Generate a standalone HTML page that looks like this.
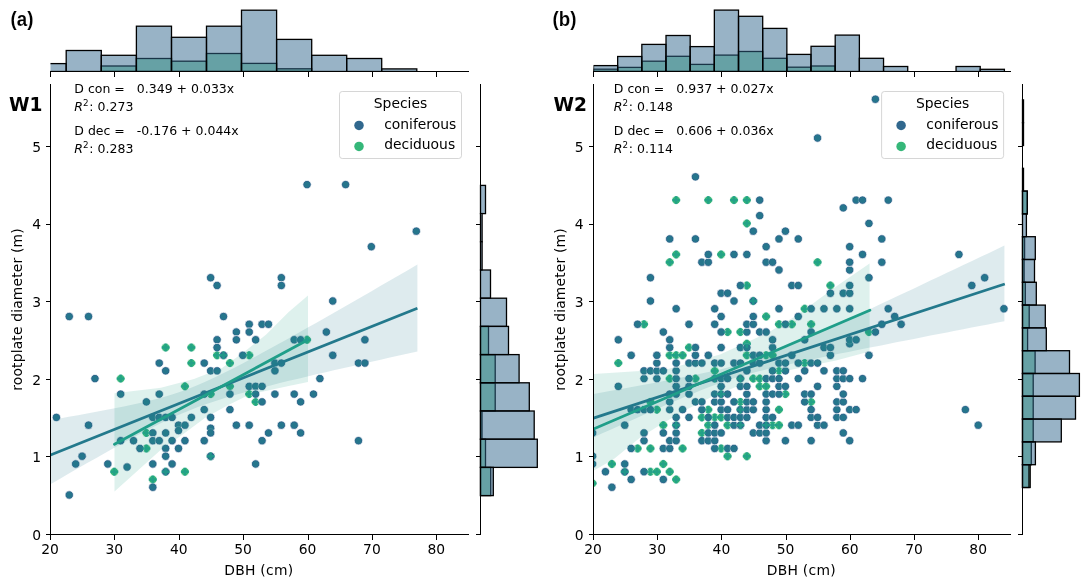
<!DOCTYPE html>
<html lang="en"><head><meta charset="utf-8"><title>Rootplate diameter vs DBH</title>
<style>html,body{margin:0;padding:0;background:#fff}svg{display:block}text{font-family:"DejaVu Sans","Liberation Sans",sans-serif}text.lib{font-family:"Liberation Sans",Arial,sans-serif}</style></head><body>
<svg width="1090" height="586" viewBox="0 0 1090 586">
<rect width="1090" height="586" fill="#fff"/>
<clipPath id="ctL"><rect x="50.5" y="0" width="418.5" height="72"/></clipPath>
<g stroke="#000" stroke-width="1.3" clip-path="url(#ctL)">
<rect x="101.3" y="66" width="35.1" height="5.5" fill="#35b779" fill-opacity=".5"/>
<rect x="136.4" y="58.5" width="35.1" height="13" fill="#35b779" fill-opacity=".5"/>
<rect x="171.5" y="61.2" width="35" height="10.3" fill="#35b779" fill-opacity=".5"/>
<rect x="206.5" y="53.5" width="35" height="18" fill="#35b779" fill-opacity=".5"/>
<rect x="241.5" y="63.4" width="35.1" height="8.1" fill="#35b779" fill-opacity=".5"/>
<rect x="276.6" y="68.8" width="35.1" height="2.7" fill="#35b779" fill-opacity=".5"/>
<rect x="31.1" y="63.6" width="35.1" height="7.9" fill="#31688e" fill-opacity=".5"/>
<rect x="66.2" y="50.5" width="35.1" height="21" fill="#31688e" fill-opacity=".5"/>
<rect x="101.3" y="55.3" width="35.1" height="16.2" fill="#31688e" fill-opacity=".5"/>
<rect x="136.4" y="26.2" width="35.1" height="45.3" fill="#31688e" fill-opacity=".5"/>
<rect x="171.5" y="37.3" width="35" height="34.2" fill="#31688e" fill-opacity=".5"/>
<rect x="206.5" y="26.2" width="35" height="45.3" fill="#31688e" fill-opacity=".5"/>
<rect x="241.5" y="10.2" width="35.1" height="61.3" fill="#31688e" fill-opacity=".5"/>
<rect x="276.6" y="39.4" width="35.1" height="32.1" fill="#31688e" fill-opacity=".5"/>
<rect x="311.7" y="55.3" width="35" height="16.2" fill="#31688e" fill-opacity=".5"/>
<rect x="346.7" y="58.5" width="35" height="13" fill="#31688e" fill-opacity=".5"/>
<rect x="381.7" y="68.9" width="35.1" height="2.6" fill="#31688e" fill-opacity=".5"/>
</g>
<g stroke="#000" stroke-width="1.3">
<rect x="480.5" y="326.4" width="8" height="28.2" fill="#35b779" fill-opacity=".5"/>
<rect x="480.5" y="354.6" width="14.7" height="28.2" fill="#35b779" fill-opacity=".5"/>
<rect x="480.5" y="382.8" width="14.7" height="28.2" fill="#35b779" fill-opacity=".5"/>
<rect x="480.5" y="411" width="1.5" height="28.2" fill="#35b779" fill-opacity=".5"/>
<rect x="480.5" y="439.2" width="5" height="28.2" fill="#35b779" fill-opacity=".5"/>
<rect x="480.5" y="467.4" width="10.2" height="28.2" fill="#35b779" fill-opacity=".5"/>
<rect x="480.5" y="185.4" width="5" height="28.2" fill="#31688e" fill-opacity=".5"/>
<rect x="480.5" y="213.6" width="1.6" height="28.2" fill="#31688e" fill-opacity=".5"/>
<rect x="480.5" y="241.8" width="1.6" height="28.2" fill="#31688e" fill-opacity=".5"/>
<rect x="480.5" y="270" width="10" height="28.2" fill="#31688e" fill-opacity=".5"/>
<rect x="480.5" y="298.2" width="26" height="28.2" fill="#31688e" fill-opacity=".5"/>
<rect x="480.5" y="326.4" width="28" height="28.2" fill="#31688e" fill-opacity=".5"/>
<rect x="480.5" y="354.6" width="38.6" height="28.2" fill="#31688e" fill-opacity=".5"/>
<rect x="480.5" y="382.8" width="48.8" height="28.2" fill="#31688e" fill-opacity=".5"/>
<rect x="480.5" y="411" width="53.7" height="28.2" fill="#31688e" fill-opacity=".5"/>
<rect x="480.5" y="439.2" width="56.8" height="28.2" fill="#31688e" fill-opacity=".5"/>
<rect x="480.5" y="467.4" width="12.8" height="28.2" fill="#31688e" fill-opacity=".5"/>
</g>
<clipPath id="cpL"><rect x="50.5" y="84.5" width="418.5" height="450"/></clipPath>
<g clip-path="url(#cpL)">
<g stroke="#fff" stroke-width=".7">
<circle cx="120.67" cy="378.6" r="4.2" fill="#35b779"/>
<circle cx="146.38" cy="432.92" r="4.2" fill="#35b779"/>
<circle cx="146.38" cy="448.44" r="4.2" fill="#35b779"/>
<circle cx="114.24" cy="471.72" r="4.2" fill="#35b779"/>
<circle cx="152.8" cy="479.48" r="4.2" fill="#35b779"/>
<circle cx="165.66" cy="471.72" r="4.2" fill="#35b779"/>
<circle cx="184.94" cy="386.36" r="4.2" fill="#35b779"/>
<circle cx="229.93" cy="386.36" r="4.2" fill="#35b779"/>
<circle cx="210.64" cy="394.12" r="4.2" fill="#35b779"/>
<circle cx="249.21" cy="394.12" r="4.2" fill="#35b779"/>
<circle cx="255.63" cy="401.88" r="4.2" fill="#35b779"/>
<circle cx="184.94" cy="471.72" r="4.2" fill="#35b779"/>
<circle cx="210.64" cy="456.2" r="4.2" fill="#35b779"/>
<circle cx="165.66" cy="347.56" r="4.2" fill="#35b779"/>
<circle cx="191.36" cy="347.56" r="4.2" fill="#35b779"/>
<circle cx="217.07" cy="355.32" r="4.2" fill="#35b779"/>
<circle cx="223.5" cy="355.32" r="4.2" fill="#35b779"/>
<circle cx="249.21" cy="355.32" r="4.2" fill="#35b779"/>
<circle cx="191.36" cy="363.08" r="4.2" fill="#35b779"/>
<circle cx="229.93" cy="363.08" r="4.2" fill="#35b779"/>
<circle cx="307.05" cy="339.8" r="4.2" fill="#35b779"/>
<circle cx="56.4" cy="417.4" r="4.2" fill="#31688e"/>
<circle cx="88.53" cy="425.16" r="4.2" fill="#31688e"/>
<circle cx="82.1" cy="456.2" r="4.2" fill="#31688e"/>
<circle cx="75.68" cy="463.96" r="4.2" fill="#31688e"/>
<circle cx="69.25" cy="495" r="4.2" fill="#31688e"/>
<circle cx="94.96" cy="378.6" r="4.2" fill="#31688e"/>
<circle cx="120.67" cy="394.12" r="4.2" fill="#31688e"/>
<circle cx="159.23" cy="394.12" r="4.2" fill="#31688e"/>
<circle cx="146.38" cy="401.88" r="4.2" fill="#31688e"/>
<circle cx="152.8" cy="417.4" r="4.2" fill="#31688e"/>
<circle cx="159.23" cy="417.4" r="4.2" fill="#31688e"/>
<circle cx="165.66" cy="417.4" r="4.2" fill="#31688e"/>
<circle cx="172.08" cy="417.4" r="4.2" fill="#31688e"/>
<circle cx="178.51" cy="425.16" r="4.2" fill="#31688e"/>
<circle cx="178.51" cy="430.59" r="4.2" fill="#31688e"/>
<circle cx="152.8" cy="432.92" r="4.2" fill="#31688e"/>
<circle cx="165.66" cy="432.92" r="4.2" fill="#31688e"/>
<circle cx="120.67" cy="440.68" r="4.2" fill="#31688e"/>
<circle cx="133.52" cy="440.68" r="4.2" fill="#31688e"/>
<circle cx="152.8" cy="440.68" r="4.2" fill="#31688e"/>
<circle cx="159.23" cy="440.68" r="4.2" fill="#31688e"/>
<circle cx="172.08" cy="440.68" r="4.2" fill="#31688e"/>
<circle cx="139.95" cy="448.44" r="4.2" fill="#31688e"/>
<circle cx="165.66" cy="448.44" r="4.2" fill="#31688e"/>
<circle cx="178.51" cy="448.44" r="4.2" fill="#31688e"/>
<circle cx="165.66" cy="456.2" r="4.2" fill="#31688e"/>
<circle cx="107.81" cy="463.96" r="4.2" fill="#31688e"/>
<circle cx="152.8" cy="463.96" r="4.2" fill="#31688e"/>
<circle cx="172.08" cy="463.96" r="4.2" fill="#31688e"/>
<circle cx="127.09" cy="467.06" r="4.2" fill="#31688e"/>
<circle cx="165.66" cy="471.72" r="4.2" fill="#31688e"/>
<circle cx="152.8" cy="487.24" r="4.2" fill="#31688e"/>
<circle cx="249.21" cy="386.36" r="4.2" fill="#31688e"/>
<circle cx="255.63" cy="386.36" r="4.2" fill="#31688e"/>
<circle cx="262.06" cy="386.36" r="4.2" fill="#31688e"/>
<circle cx="204.22" cy="394.12" r="4.2" fill="#31688e"/>
<circle cx="229.93" cy="394.12" r="4.2" fill="#31688e"/>
<circle cx="255.63" cy="394.12" r="4.2" fill="#31688e"/>
<circle cx="274.91" cy="394.12" r="4.2" fill="#31688e"/>
<circle cx="294.2" cy="394.12" r="4.2" fill="#31688e"/>
<circle cx="262.06" cy="401.88" r="4.2" fill="#31688e"/>
<circle cx="300.62" cy="401.88" r="4.2" fill="#31688e"/>
<circle cx="204.22" cy="409.64" r="4.2" fill="#31688e"/>
<circle cx="229.93" cy="409.64" r="4.2" fill="#31688e"/>
<circle cx="191.36" cy="417.4" r="4.2" fill="#31688e"/>
<circle cx="210.64" cy="417.4" r="4.2" fill="#31688e"/>
<circle cx="184.94" cy="425.16" r="4.2" fill="#31688e"/>
<circle cx="236.35" cy="425.16" r="4.2" fill="#31688e"/>
<circle cx="249.21" cy="425.16" r="4.2" fill="#31688e"/>
<circle cx="281.34" cy="425.16" r="4.2" fill="#31688e"/>
<circle cx="294.2" cy="425.16" r="4.2" fill="#31688e"/>
<circle cx="210.64" cy="428.26" r="4.2" fill="#31688e"/>
<circle cx="210.64" cy="432.92" r="4.2" fill="#31688e"/>
<circle cx="268.49" cy="432.92" r="4.2" fill="#31688e"/>
<circle cx="300.62" cy="432.92" r="4.2" fill="#31688e"/>
<circle cx="184.94" cy="440.68" r="4.2" fill="#31688e"/>
<circle cx="204.22" cy="440.68" r="4.2" fill="#31688e"/>
<circle cx="262.06" cy="440.68" r="4.2" fill="#31688e"/>
<circle cx="210.64" cy="456.2" r="4.2" fill="#31688e"/>
<circle cx="255.63" cy="463.96" r="4.2" fill="#31688e"/>
<circle cx="69.25" cy="316.52" r="4.2" fill="#31688e"/>
<circle cx="88.53" cy="316.52" r="4.2" fill="#31688e"/>
<circle cx="159.23" cy="363.08" r="4.2" fill="#31688e"/>
<circle cx="165.66" cy="370.84" r="4.2" fill="#31688e"/>
<circle cx="210.64" cy="277.72" r="4.2" fill="#31688e"/>
<circle cx="217.07" cy="285.48" r="4.2" fill="#31688e"/>
<circle cx="281.34" cy="277.72" r="4.2" fill="#31688e"/>
<circle cx="281.34" cy="285.48" r="4.2" fill="#31688e"/>
<circle cx="223.5" cy="316.52" r="4.2" fill="#31688e"/>
<circle cx="249.21" cy="324.28" r="4.2" fill="#31688e"/>
<circle cx="262.06" cy="324.28" r="4.2" fill="#31688e"/>
<circle cx="268.49" cy="324.28" r="4.2" fill="#31688e"/>
<circle cx="236.35" cy="332.04" r="4.2" fill="#31688e"/>
<circle cx="249.21" cy="332.04" r="4.2" fill="#31688e"/>
<circle cx="217.07" cy="339.8" r="4.2" fill="#31688e"/>
<circle cx="236.35" cy="339.8" r="4.2" fill="#31688e"/>
<circle cx="255.63" cy="339.8" r="4.2" fill="#31688e"/>
<circle cx="294.2" cy="339.8" r="4.2" fill="#31688e"/>
<circle cx="300.62" cy="339.8" r="4.2" fill="#31688e"/>
<circle cx="217.07" cy="347.56" r="4.2" fill="#31688e"/>
<circle cx="223.5" cy="355.32" r="4.2" fill="#31688e"/>
<circle cx="242.78" cy="355.32" r="4.2" fill="#31688e"/>
<circle cx="204.22" cy="363.08" r="4.2" fill="#31688e"/>
<circle cx="274.91" cy="363.08" r="4.2" fill="#31688e"/>
<circle cx="281.34" cy="363.08" r="4.2" fill="#31688e"/>
<circle cx="210.64" cy="370.84" r="4.2" fill="#31688e"/>
<circle cx="217.07" cy="370.84" r="4.2" fill="#31688e"/>
<circle cx="274.91" cy="370.84" r="4.2" fill="#31688e"/>
<circle cx="332.76" cy="301" r="4.2" fill="#31688e"/>
<circle cx="326.33" cy="332.04" r="4.2" fill="#31688e"/>
<circle cx="364.89" cy="339.8" r="4.2" fill="#31688e"/>
<circle cx="332.76" cy="355.32" r="4.2" fill="#31688e"/>
<circle cx="358.47" cy="363.08" r="4.2" fill="#31688e"/>
<circle cx="364.89" cy="363.08" r="4.2" fill="#31688e"/>
<circle cx="319.9" cy="378.6" r="4.2" fill="#31688e"/>
<circle cx="313.48" cy="394.12" r="4.2" fill="#31688e"/>
<circle cx="358.47" cy="440.68" r="4.2" fill="#31688e"/>
<circle cx="307.05" cy="184.6" r="4.2" fill="#31688e"/>
<circle cx="345.61" cy="184.6" r="4.2" fill="#31688e"/>
<circle cx="416.31" cy="231.16" r="4.2" fill="#31688e"/>
<circle cx="371.32" cy="246.68" r="4.2" fill="#31688e"/>
</g>
<g fill="#23798c" fill-opacity=".8">
<circle cx="56.4" cy="417.4" r="2.95"/>
<circle cx="88.53" cy="425.16" r="2.95"/>
<circle cx="82.1" cy="456.2" r="2.95"/>
<circle cx="75.68" cy="463.96" r="2.95"/>
<circle cx="69.25" cy="495" r="2.95"/>
<circle cx="94.96" cy="378.6" r="2.95"/>
<circle cx="120.67" cy="394.12" r="2.95"/>
<circle cx="159.23" cy="394.12" r="2.95"/>
<circle cx="146.38" cy="401.88" r="2.95"/>
<circle cx="152.8" cy="417.4" r="2.95"/>
<circle cx="159.23" cy="417.4" r="2.95"/>
<circle cx="165.66" cy="417.4" r="2.95"/>
<circle cx="172.08" cy="417.4" r="2.95"/>
<circle cx="178.51" cy="425.16" r="2.95"/>
<circle cx="178.51" cy="430.59" r="2.95"/>
<circle cx="152.8" cy="432.92" r="2.95"/>
<circle cx="165.66" cy="432.92" r="2.95"/>
<circle cx="120.67" cy="440.68" r="2.95"/>
<circle cx="133.52" cy="440.68" r="2.95"/>
<circle cx="152.8" cy="440.68" r="2.95"/>
<circle cx="159.23" cy="440.68" r="2.95"/>
<circle cx="172.08" cy="440.68" r="2.95"/>
<circle cx="139.95" cy="448.44" r="2.95"/>
<circle cx="165.66" cy="448.44" r="2.95"/>
<circle cx="178.51" cy="448.44" r="2.95"/>
<circle cx="165.66" cy="456.2" r="2.95"/>
<circle cx="107.81" cy="463.96" r="2.95"/>
<circle cx="152.8" cy="463.96" r="2.95"/>
<circle cx="172.08" cy="463.96" r="2.95"/>
<circle cx="127.09" cy="467.06" r="2.95"/>
<circle cx="165.66" cy="471.72" r="2.95"/>
<circle cx="152.8" cy="487.24" r="2.95"/>
<circle cx="249.21" cy="386.36" r="2.95"/>
<circle cx="255.63" cy="386.36" r="2.95"/>
<circle cx="262.06" cy="386.36" r="2.95"/>
<circle cx="204.22" cy="394.12" r="2.95"/>
<circle cx="229.93" cy="394.12" r="2.95"/>
<circle cx="255.63" cy="394.12" r="2.95"/>
<circle cx="274.91" cy="394.12" r="2.95"/>
<circle cx="294.2" cy="394.12" r="2.95"/>
<circle cx="262.06" cy="401.88" r="2.95"/>
<circle cx="300.62" cy="401.88" r="2.95"/>
<circle cx="204.22" cy="409.64" r="2.95"/>
<circle cx="229.93" cy="409.64" r="2.95"/>
<circle cx="191.36" cy="417.4" r="2.95"/>
<circle cx="210.64" cy="417.4" r="2.95"/>
<circle cx="184.94" cy="425.16" r="2.95"/>
<circle cx="236.35" cy="425.16" r="2.95"/>
<circle cx="249.21" cy="425.16" r="2.95"/>
<circle cx="281.34" cy="425.16" r="2.95"/>
<circle cx="294.2" cy="425.16" r="2.95"/>
<circle cx="210.64" cy="428.26" r="2.95"/>
<circle cx="210.64" cy="432.92" r="2.95"/>
<circle cx="268.49" cy="432.92" r="2.95"/>
<circle cx="300.62" cy="432.92" r="2.95"/>
<circle cx="184.94" cy="440.68" r="2.95"/>
<circle cx="204.22" cy="440.68" r="2.95"/>
<circle cx="262.06" cy="440.68" r="2.95"/>
<circle cx="210.64" cy="456.2" r="2.95"/>
<circle cx="255.63" cy="463.96" r="2.95"/>
<circle cx="69.25" cy="316.52" r="2.95"/>
<circle cx="88.53" cy="316.52" r="2.95"/>
<circle cx="159.23" cy="363.08" r="2.95"/>
<circle cx="165.66" cy="370.84" r="2.95"/>
<circle cx="210.64" cy="277.72" r="2.95"/>
<circle cx="217.07" cy="285.48" r="2.95"/>
<circle cx="281.34" cy="277.72" r="2.95"/>
<circle cx="281.34" cy="285.48" r="2.95"/>
<circle cx="223.5" cy="316.52" r="2.95"/>
<circle cx="249.21" cy="324.28" r="2.95"/>
<circle cx="262.06" cy="324.28" r="2.95"/>
<circle cx="268.49" cy="324.28" r="2.95"/>
<circle cx="236.35" cy="332.04" r="2.95"/>
<circle cx="249.21" cy="332.04" r="2.95"/>
<circle cx="217.07" cy="339.8" r="2.95"/>
<circle cx="236.35" cy="339.8" r="2.95"/>
<circle cx="255.63" cy="339.8" r="2.95"/>
<circle cx="294.2" cy="339.8" r="2.95"/>
<circle cx="300.62" cy="339.8" r="2.95"/>
<circle cx="217.07" cy="347.56" r="2.95"/>
<circle cx="223.5" cy="355.32" r="2.95"/>
<circle cx="242.78" cy="355.32" r="2.95"/>
<circle cx="204.22" cy="363.08" r="2.95"/>
<circle cx="274.91" cy="363.08" r="2.95"/>
<circle cx="281.34" cy="363.08" r="2.95"/>
<circle cx="210.64" cy="370.84" r="2.95"/>
<circle cx="217.07" cy="370.84" r="2.95"/>
<circle cx="274.91" cy="370.84" r="2.95"/>
<circle cx="332.76" cy="301" r="2.95"/>
<circle cx="326.33" cy="332.04" r="2.95"/>
<circle cx="364.89" cy="339.8" r="2.95"/>
<circle cx="332.76" cy="355.32" r="2.95"/>
<circle cx="358.47" cy="363.08" r="2.95"/>
<circle cx="364.89" cy="363.08" r="2.95"/>
<circle cx="319.9" cy="378.6" r="2.95"/>
<circle cx="313.48" cy="394.12" r="2.95"/>
<circle cx="358.47" cy="440.68" r="2.95"/>
<circle cx="307.05" cy="184.6" r="2.95"/>
<circle cx="345.61" cy="184.6" r="2.95"/>
<circle cx="416.31" cy="231.16" r="2.95"/>
<circle cx="371.32" cy="246.68" r="2.95"/>
</g>
<polygon points="50.5,420.01 59.67,418.4 68.84,416.78 78.02,415.15 87.19,413.48 96.36,411.79 105.53,410.06 114.71,408.28 123.88,406.43 133.05,404.51 142.22,402.48 151.4,400.3 160.57,397.92 169.74,395.28 178.91,392.31 188.09,388.94 197.26,385.2 206.43,381.2 215.6,376.96 224.78,372.52 233.95,367.91 243.12,363.16 252.29,358.31 261.47,353.36 270.64,348.35 279.81,343.29 288.99,338.18 298.16,333.03 307.33,327.86 316.5,322.66 325.68,317.44 334.85,312.2 344.02,306.95 353.19,301.69 362.36,296.41 371.54,291.13 380.71,285.84 389.88,280.54 399.05,275.24 408.23,269.93 417.4,264.61 417.4,351.49 408.23,353.53 399.05,355.57 389.88,357.62 380.71,359.68 371.54,361.74 362.36,363.81 353.19,365.89 344.02,367.98 334.85,370.08 325.68,372.2 316.5,374.33 307.33,376.48 298.16,378.66 288.99,380.87 279.81,383.11 270.64,385.4 261.47,387.74 252.29,390.15 243.12,392.65 233.95,395.26 224.78,398 215.6,400.91 206.43,404.02 197.26,407.36 188.09,410.96 178.91,414.83 169.74,418.97 160.57,423.35 151.4,427.94 142.22,432.68 133.05,437.56 123.88,442.53 114.71,447.59 105.53,452.71 96.36,457.88 87.19,463.09 78.02,468.33 68.84,473.6 59.67,478.89 50.5,484.2" fill="#23798c" fill-opacity=".15"/>
<g fill="#1f9e89" fill-opacity=".8">
<path d="M119.47 374.6h2.4v2.8h2.8v2.4h-2.8v2.8h-2.4v-2.8h-2.8v-2.4h2.8z"/>
<path d="M145.18 428.92h2.4v2.8h2.8v2.4h-2.8v2.8h-2.4v-2.8h-2.8v-2.4h2.8z"/>
<path d="M145.18 444.44h2.4v2.8h2.8v2.4h-2.8v2.8h-2.4v-2.8h-2.8v-2.4h2.8z"/>
<path d="M113.04 467.72h2.4v2.8h2.8v2.4h-2.8v2.8h-2.4v-2.8h-2.8v-2.4h2.8z"/>
<path d="M151.6 475.48h2.4v2.8h2.8v2.4h-2.8v2.8h-2.4v-2.8h-2.8v-2.4h2.8z"/>
<path d="M164.46 467.72h2.4v2.8h2.8v2.4h-2.8v2.8h-2.4v-2.8h-2.8v-2.4h2.8z"/>
<path d="M183.74 382.36h2.4v2.8h2.8v2.4h-2.8v2.8h-2.4v-2.8h-2.8v-2.4h2.8z"/>
<path d="M228.73 382.36h2.4v2.8h2.8v2.4h-2.8v2.8h-2.4v-2.8h-2.8v-2.4h2.8z"/>
<path d="M209.44 390.12h2.4v2.8h2.8v2.4h-2.8v2.8h-2.4v-2.8h-2.8v-2.4h2.8z"/>
<path d="M248.01 390.12h2.4v2.8h2.8v2.4h-2.8v2.8h-2.4v-2.8h-2.8v-2.4h2.8z"/>
<path d="M254.43 397.88h2.4v2.8h2.8v2.4h-2.8v2.8h-2.4v-2.8h-2.8v-2.4h2.8z"/>
<path d="M183.74 467.72h2.4v2.8h2.8v2.4h-2.8v2.8h-2.4v-2.8h-2.8v-2.4h2.8z"/>
<path d="M209.44 452.2h2.4v2.8h2.8v2.4h-2.8v2.8h-2.4v-2.8h-2.8v-2.4h2.8z"/>
<path d="M164.46 343.56h2.4v2.8h2.8v2.4h-2.8v2.8h-2.4v-2.8h-2.8v-2.4h2.8z"/>
<path d="M190.16 343.56h2.4v2.8h2.8v2.4h-2.8v2.8h-2.4v-2.8h-2.8v-2.4h2.8z"/>
<path d="M215.87 351.32h2.4v2.8h2.8v2.4h-2.8v2.8h-2.4v-2.8h-2.8v-2.4h2.8z"/>
<path d="M222.3 351.32h2.4v2.8h2.8v2.4h-2.8v2.8h-2.4v-2.8h-2.8v-2.4h2.8z"/>
<path d="M248.01 351.32h2.4v2.8h2.8v2.4h-2.8v2.8h-2.4v-2.8h-2.8v-2.4h2.8z"/>
<path d="M190.16 359.08h2.4v2.8h2.8v2.4h-2.8v2.8h-2.4v-2.8h-2.8v-2.4h2.8z"/>
<path d="M228.73 359.08h2.4v2.8h2.8v2.4h-2.8v2.8h-2.4v-2.8h-2.8v-2.4h2.8z"/>
<path d="M305.85 335.8h2.4v2.8h2.8v2.4h-2.8v2.8h-2.4v-2.8h-2.8v-2.4h2.8z"/>
</g>
<polygon points="114.5,393.3 161,387.7 194,378.9 222,368 244,352 266.5,334.3 288.7,312.1 308,295.5 308,382 288.7,386 249.6,394.4 227.4,405.5 205.2,417.7 183,434.3 160.9,449.8 138.7,469.8 114.5,491.5" fill="#1f9e89" fill-opacity=".15"/>
<line x1="50.5" y1="455" x2="417.4" y2="308.2" stroke="#23798c" stroke-width="2.8" stroke-linecap="butt"/>
<line x1="114.5" y1="444.3" x2="308" y2="339.8" stroke="#1f9e89" stroke-width="2.8" stroke-linecap="round"/>
</g>
<g stroke="#000" stroke-width="1" fill="none" shape-rendering="crispEdges">
<line x1="50" y1="71.5" x2="469" y2="71.5"/>
<line x1="50.5" y1="84" x2="50.5" y2="535"/>
<line x1="50" y1="534.5" x2="469" y2="534.5"/>
<line x1="480.5" y1="84" x2="480.5" y2="535"/>
<line x1="50.5" y1="534.5" x2="50.5" y2="539.5"/>
<line x1="50.5" y1="71.5" x2="50.5" y2="76.5"/>
<line x1="114.5" y1="534.5" x2="114.5" y2="539.5"/>
<line x1="114.5" y1="71.5" x2="114.5" y2="76.5"/>
<line x1="179.5" y1="534.5" x2="179.5" y2="539.5"/>
<line x1="179.5" y1="71.5" x2="179.5" y2="76.5"/>
<line x1="243.5" y1="534.5" x2="243.5" y2="539.5"/>
<line x1="243.5" y1="71.5" x2="243.5" y2="76.5"/>
<line x1="308.5" y1="534.5" x2="308.5" y2="539.5"/>
<line x1="308.5" y1="71.5" x2="308.5" y2="76.5"/>
<line x1="372.5" y1="534.5" x2="372.5" y2="539.5"/>
<line x1="372.5" y1="71.5" x2="372.5" y2="76.5"/>
<line x1="436.5" y1="534.5" x2="436.5" y2="539.5"/>
<line x1="436.5" y1="71.5" x2="436.5" y2="76.5"/>
<line x1="45.5" y1="534.5" x2="50.5" y2="534.5"/>
<line x1="475.5" y1="534.5" x2="480.5" y2="534.5"/>
<line x1="45.5" y1="456.5" x2="50.5" y2="456.5"/>
<line x1="475.5" y1="456.5" x2="480.5" y2="456.5"/>
<line x1="45.5" y1="379.5" x2="50.5" y2="379.5"/>
<line x1="475.5" y1="379.5" x2="480.5" y2="379.5"/>
<line x1="45.5" y1="301.5" x2="50.5" y2="301.5"/>
<line x1="475.5" y1="301.5" x2="480.5" y2="301.5"/>
<line x1="45.5" y1="224.5" x2="50.5" y2="224.5"/>
<line x1="475.5" y1="224.5" x2="480.5" y2="224.5"/>
<line x1="45.5" y1="146.5" x2="50.5" y2="146.5"/>
<line x1="475.5" y1="146.5" x2="480.5" y2="146.5"/>
</g>
<g font-size="13.89" fill="#000">
<text x="50" y="554" text-anchor="middle">20</text>
<text x="114.38" y="554" text-anchor="middle">30</text>
<text x="178.76" y="554" text-anchor="middle">40</text>
<text x="243.14" y="554" text-anchor="middle">50</text>
<text x="307.52" y="554" text-anchor="middle">60</text>
<text x="371.9" y="554" text-anchor="middle">70</text>
<text x="436.28" y="554" text-anchor="middle">80</text>
<text x="41" y="539.7" text-anchor="end">0</text>
<text x="41" y="462.1" text-anchor="end">1</text>
<text x="41" y="384.5" text-anchor="end">2</text>
<text x="41" y="306.9" text-anchor="end">3</text>
<text x="41" y="229.3" text-anchor="end">4</text>
<text x="41" y="151.7" text-anchor="end">5</text>
<text x="258.85" y="574.8" text-anchor="middle" letter-spacing=".25">DBH (cm)</text>
<text transform="translate(22 309.5) rotate(-90)" text-anchor="middle" letter-spacing=".16">rootplate diameter (m)</text>
</g>
<rect x="339.5" y="91.5" width="122" height="67" rx="2.8" fill="#fff" fill-opacity=".8" stroke="#ccc" stroke-opacity=".8" stroke-width="1"/>
<g font-size="13.89" fill="#000">
<text x="400.5" y="107.9" text-anchor="middle">Species</text>
<text x="384.2" y="128.6">coniferous</text>
<text x="384.2" y="148.9">deciduous</text>
</g>
<circle cx="359" cy="125.4" r="4.75" fill="#31688e"/>
<circle cx="359" cy="146.4" r="4.75" fill="#35b779"/>
<g font-size="12.5" fill="#000">
<text x="74.3" y="93.2">D con =</text><text x="136.8" y="93.2">0.349 + 0.033x</text>
<text x="74.3" y="111"><tspan font-style="oblique">R</tspan><tspan dy="-4.8" font-size="8.75">2</tspan><tspan dy="4.8" dx=".8">: 0.273</tspan></text>
<text x="74.3" y="135.2">D dec =</text><text x="136.8" y="135.2">-0.176 + 0.044x</text>
<text x="74.3" y="152.8"><tspan font-style="oblique">R</tspan><tspan dy="-4.8" font-size="8.75">2</tspan><tspan dy="4.8" dx=".8">: 0.283</tspan></text>
</g>
<text x="9" y="111" font-size="18.6" font-weight="bold">W1</text>
<text transform="translate(10.5 25.9) scale(.955 1)" font-size="19.6" font-weight="bold" class="lib" stroke="#fff" stroke-width=".1">(a)</text>
<clipPath id="ctR"><rect x="593.5" y="0" width="417.5" height="72"/></clipPath>
<g stroke="#000" stroke-width="1.3" clip-path="url(#ctR)">
<rect x="593.5" y="69.2" width="24.17" height="2.3" fill="#35b779" fill-opacity=".5"/>
<rect x="617.67" y="67.4" width="24.17" height="4.1" fill="#35b779" fill-opacity=".5"/>
<rect x="641.84" y="61.2" width="24.17" height="10.3" fill="#35b779" fill-opacity=".5"/>
<rect x="666.01" y="56.3" width="24.17" height="15.2" fill="#35b779" fill-opacity=".5"/>
<rect x="690.18" y="64.4" width="24.17" height="7.1" fill="#35b779" fill-opacity=".5"/>
<rect x="714.35" y="55.1" width="24.17" height="16.4" fill="#35b779" fill-opacity=".5"/>
<rect x="738.52" y="51.5" width="24.17" height="20" fill="#35b779" fill-opacity=".5"/>
<rect x="762.69" y="58.3" width="24.17" height="13.2" fill="#35b779" fill-opacity=".5"/>
<rect x="786.86" y="67.2" width="24.17" height="4.3" fill="#35b779" fill-opacity=".5"/>
<rect x="811.03" y="66" width="24.17" height="5.5" fill="#35b779" fill-opacity=".5"/>
<rect x="593.5" y="65.6" width="24.17" height="5.9" fill="#31688e" fill-opacity=".5"/>
<rect x="617.67" y="56.5" width="24.17" height="15" fill="#31688e" fill-opacity=".5"/>
<rect x="641.84" y="44.4" width="24.17" height="27.1" fill="#31688e" fill-opacity=".5"/>
<rect x="666.01" y="35.5" width="24.17" height="36" fill="#31688e" fill-opacity=".5"/>
<rect x="690.18" y="46.6" width="24.17" height="24.9" fill="#31688e" fill-opacity=".5"/>
<rect x="714.35" y="10.1" width="24.17" height="61.4" fill="#31688e" fill-opacity=".5"/>
<rect x="738.52" y="16.3" width="24.17" height="55.2" fill="#31688e" fill-opacity=".5"/>
<rect x="762.69" y="28.4" width="24.17" height="43.1" fill="#31688e" fill-opacity=".5"/>
<rect x="786.86" y="54.4" width="24.17" height="17.1" fill="#31688e" fill-opacity=".5"/>
<rect x="811.03" y="46.3" width="24.17" height="25.2" fill="#31688e" fill-opacity=".5"/>
<rect x="835.2" y="35.1" width="24.17" height="36.4" fill="#31688e" fill-opacity=".5"/>
<rect x="859.37" y="58.3" width="24.17" height="13.2" fill="#31688e" fill-opacity=".5"/>
<rect x="883.54" y="66.5" width="24.17" height="5" fill="#31688e" fill-opacity=".5"/>
<rect x="956.05" y="66.5" width="24.17" height="5" fill="#31688e" fill-opacity=".5"/>
<rect x="980.22" y="69.3" width="24.17" height="2.2" fill="#31688e" fill-opacity=".5"/>
</g>
<g stroke="#000" stroke-width="1.3">
<rect x="1022.5" y="191.1" width="4.8" height="22.8" fill="#35b779" fill-opacity=".5"/>
<rect x="1022.5" y="236.7" width="2.1" height="22.8" fill="#35b779" fill-opacity=".5"/>
<rect x="1022.5" y="259.5" width="1.6" height="22.8" fill="#35b779" fill-opacity=".5"/>
<rect x="1022.5" y="282.3" width="2.8" height="22.8" fill="#35b779" fill-opacity=".5"/>
<rect x="1022.5" y="305.1" width="6.7" height="22.8" fill="#35b779" fill-opacity=".5"/>
<rect x="1022.5" y="327.9" width="5.1" height="22.8" fill="#35b779" fill-opacity=".5"/>
<rect x="1022.5" y="350.7" width="12.6" height="22.8" fill="#35b779" fill-opacity=".5"/>
<rect x="1022.5" y="373.5" width="10.7" height="22.8" fill="#35b779" fill-opacity=".5"/>
<rect x="1022.5" y="396.3" width="10.7" height="22.8" fill="#35b779" fill-opacity=".5"/>
<rect x="1022.5" y="419.1" width="10.7" height="22.8" fill="#35b779" fill-opacity=".5"/>
<rect x="1022.5" y="441.9" width="8.8" height="22.8" fill="#35b779" fill-opacity=".5"/>
<rect x="1022.5" y="464.7" width="7.7" height="22.8" fill="#35b779" fill-opacity=".5"/>
<rect x="1022.5" y="99.9" width="1" height="22.8" fill="#31688e" fill-opacity=".5"/>
<rect x="1022.5" y="122.7" width="1" height="22.8" fill="#31688e" fill-opacity=".5"/>
<rect x="1022.5" y="168.3" width="1" height="22.8" fill="#31688e" fill-opacity=".5"/>
<rect x="1022.5" y="191.1" width="4.8" height="22.8" fill="#31688e" fill-opacity=".5"/>
<rect x="1022.5" y="213.9" width="3.9" height="22.8" fill="#31688e" fill-opacity=".5"/>
<rect x="1022.5" y="236.7" width="12.8" height="22.8" fill="#31688e" fill-opacity=".5"/>
<rect x="1022.5" y="259.5" width="12" height="22.8" fill="#31688e" fill-opacity=".5"/>
<rect x="1022.5" y="282.3" width="13.8" height="22.8" fill="#31688e" fill-opacity=".5"/>
<rect x="1022.5" y="305.1" width="22.8" height="22.8" fill="#31688e" fill-opacity=".5"/>
<rect x="1022.5" y="327.9" width="23.8" height="22.8" fill="#31688e" fill-opacity=".5"/>
<rect x="1022.5" y="350.7" width="47" height="22.8" fill="#31688e" fill-opacity=".5"/>
<rect x="1022.5" y="373.5" width="56.9" height="22.8" fill="#31688e" fill-opacity=".5"/>
<rect x="1022.5" y="396.3" width="53" height="22.8" fill="#31688e" fill-opacity=".5"/>
<rect x="1022.5" y="419.1" width="38.8" height="22.8" fill="#31688e" fill-opacity=".5"/>
<rect x="1022.5" y="441.9" width="12.9" height="22.8" fill="#31688e" fill-opacity=".5"/>
<rect x="1022.5" y="464.7" width="6.5" height="22.8" fill="#31688e" fill-opacity=".5"/>
</g>
<clipPath id="cpR"><rect x="593.5" y="84.5" width="417.5" height="450"/></clipPath>
<g clip-path="url(#cpR)">
<g stroke="#fff" stroke-width=".7">
<circle cx="592.6" cy="483.36" r="4.2" fill="#35b779"/>
<circle cx="676.15" cy="479.48" r="4.2" fill="#35b779"/>
<circle cx="624.74" cy="471.72" r="4.2" fill="#35b779"/>
<circle cx="650.44" cy="471.72" r="4.2" fill="#35b779"/>
<circle cx="656.87" cy="471.72" r="4.2" fill="#35b779"/>
<circle cx="669.72" cy="471.72" r="4.2" fill="#35b779"/>
<circle cx="611.88" cy="463.96" r="4.2" fill="#35b779"/>
<circle cx="663.3" cy="463.96" r="4.2" fill="#35b779"/>
<circle cx="727.57" cy="456.2" r="4.2" fill="#35b779"/>
<circle cx="746.85" cy="456.2" r="4.2" fill="#35b779"/>
<circle cx="637.59" cy="448.44" r="4.2" fill="#35b779"/>
<circle cx="650.44" cy="448.44" r="4.2" fill="#35b779"/>
<circle cx="682.58" cy="448.44" r="4.2" fill="#35b779"/>
<circle cx="721.14" cy="448.44" r="4.2" fill="#35b779"/>
<circle cx="701.86" cy="432.92" r="4.2" fill="#35b779"/>
<circle cx="663.3" cy="425.16" r="4.2" fill="#35b779"/>
<circle cx="676.15" cy="425.16" r="4.2" fill="#35b779"/>
<circle cx="708.29" cy="425.16" r="4.2" fill="#35b779"/>
<circle cx="727.57" cy="425.16" r="4.2" fill="#35b779"/>
<circle cx="740.42" cy="425.16" r="4.2" fill="#35b779"/>
<circle cx="766.13" cy="425.16" r="4.2" fill="#35b779"/>
<circle cx="772.56" cy="425.16" r="4.2" fill="#35b779"/>
<circle cx="778.98" cy="425.16" r="4.2" fill="#35b779"/>
<circle cx="701.86" cy="417.4" r="4.2" fill="#35b779"/>
<circle cx="714.71" cy="417.4" r="4.2" fill="#35b779"/>
<circle cx="721.14" cy="417.4" r="4.2" fill="#35b779"/>
<circle cx="656.87" cy="409.64" r="4.2" fill="#35b779"/>
<circle cx="708.29" cy="409.64" r="4.2" fill="#35b779"/>
<circle cx="740.42" cy="409.64" r="4.2" fill="#35b779"/>
<circle cx="778.98" cy="409.64" r="4.2" fill="#35b779"/>
<circle cx="650.44" cy="401.88" r="4.2" fill="#35b779"/>
<circle cx="740.42" cy="401.88" r="4.2" fill="#35b779"/>
<circle cx="811.12" cy="401.88" r="4.2" fill="#35b779"/>
<circle cx="721.14" cy="394.12" r="4.2" fill="#35b779"/>
<circle cx="785.41" cy="394.12" r="4.2" fill="#35b779"/>
<circle cx="759.7" cy="386.36" r="4.2" fill="#35b779"/>
<circle cx="766.13" cy="386.36" r="4.2" fill="#35b779"/>
<circle cx="669.72" cy="378.6" r="4.2" fill="#35b779"/>
<circle cx="695.43" cy="378.6" r="4.2" fill="#35b779"/>
<circle cx="714.71" cy="378.6" r="4.2" fill="#35b779"/>
<circle cx="740.42" cy="378.6" r="4.2" fill="#35b779"/>
<circle cx="753.27" cy="378.6" r="4.2" fill="#35b779"/>
<circle cx="759.7" cy="378.6" r="4.2" fill="#35b779"/>
<circle cx="714.71" cy="370.84" r="4.2" fill="#35b779"/>
<circle cx="778.98" cy="370.84" r="4.2" fill="#35b779"/>
<circle cx="618.31" cy="363.08" r="4.2" fill="#35b779"/>
<circle cx="804.69" cy="363.08" r="4.2" fill="#35b779"/>
<circle cx="669.72" cy="355.32" r="4.2" fill="#35b779"/>
<circle cx="676.15" cy="355.32" r="4.2" fill="#35b779"/>
<circle cx="682.58" cy="355.32" r="4.2" fill="#35b779"/>
<circle cx="746.85" cy="355.32" r="4.2" fill="#35b779"/>
<circle cx="766.13" cy="355.32" r="4.2" fill="#35b779"/>
<circle cx="772.56" cy="355.32" r="4.2" fill="#35b779"/>
<circle cx="689" cy="347.56" r="4.2" fill="#35b779"/>
<circle cx="746.85" cy="343.68" r="4.2" fill="#35b779"/>
<circle cx="727.57" cy="332.04" r="4.2" fill="#35b779"/>
<circle cx="740.42" cy="332.04" r="4.2" fill="#35b779"/>
<circle cx="868.96" cy="332.04" r="4.2" fill="#35b779"/>
<circle cx="644.02" cy="324.28" r="4.2" fill="#35b779"/>
<circle cx="778.98" cy="324.28" r="4.2" fill="#35b779"/>
<circle cx="791.84" cy="324.28" r="4.2" fill="#35b779"/>
<circle cx="811.12" cy="324.28" r="4.2" fill="#35b779"/>
<circle cx="766.13" cy="316.52" r="4.2" fill="#35b779"/>
<circle cx="804.69" cy="308.76" r="4.2" fill="#35b779"/>
<circle cx="753.27" cy="301" r="4.2" fill="#35b779"/>
<circle cx="746.85" cy="285.48" r="4.2" fill="#35b779"/>
<circle cx="830.4" cy="285.48" r="4.2" fill="#35b779"/>
<circle cx="669.72" cy="262.2" r="4.2" fill="#35b779"/>
<circle cx="817.55" cy="262.2" r="4.2" fill="#35b779"/>
<circle cx="676.15" cy="254.44" r="4.2" fill="#35b779"/>
<circle cx="721.14" cy="254.44" r="4.2" fill="#35b779"/>
<circle cx="746.85" cy="223.4" r="4.2" fill="#35b779"/>
<circle cx="676.15" cy="200.12" r="4.2" fill="#35b779"/>
<circle cx="708.29" cy="200.12" r="4.2" fill="#35b779"/>
<circle cx="733.99" cy="200.12" r="4.2" fill="#35b779"/>
<circle cx="746.85" cy="200.12" r="4.2" fill="#35b779"/>
<circle cx="611.88" cy="487.24" r="4.2" fill="#31688e"/>
<circle cx="631.16" cy="479.48" r="4.2" fill="#31688e"/>
<circle cx="663.3" cy="479.48" r="4.2" fill="#31688e"/>
<circle cx="605.45" cy="471.72" r="4.2" fill="#31688e"/>
<circle cx="624.74" cy="471.72" r="4.2" fill="#31688e"/>
<circle cx="644.02" cy="471.72" r="4.2" fill="#31688e"/>
<circle cx="592.6" cy="463.96" r="4.2" fill="#31688e"/>
<circle cx="624.74" cy="463.96" r="4.2" fill="#31688e"/>
<circle cx="592.6" cy="456.2" r="4.2" fill="#31688e"/>
<circle cx="631.16" cy="448.44" r="4.2" fill="#31688e"/>
<circle cx="663.3" cy="448.44" r="4.2" fill="#31688e"/>
<circle cx="669.72" cy="448.44" r="4.2" fill="#31688e"/>
<circle cx="714.71" cy="448.44" r="4.2" fill="#31688e"/>
<circle cx="727.57" cy="448.44" r="4.2" fill="#31688e"/>
<circle cx="733.99" cy="448.44" r="4.2" fill="#31688e"/>
<circle cx="644.02" cy="440.68" r="4.2" fill="#31688e"/>
<circle cx="669.72" cy="440.68" r="4.2" fill="#31688e"/>
<circle cx="676.15" cy="440.68" r="4.2" fill="#31688e"/>
<circle cx="701.86" cy="440.68" r="4.2" fill="#31688e"/>
<circle cx="708.29" cy="440.68" r="4.2" fill="#31688e"/>
<circle cx="714.71" cy="440.68" r="4.2" fill="#31688e"/>
<circle cx="766.13" cy="440.68" r="4.2" fill="#31688e"/>
<circle cx="785.41" cy="440.68" r="4.2" fill="#31688e"/>
<circle cx="811.12" cy="440.68" r="4.2" fill="#31688e"/>
<circle cx="849.68" cy="440.68" r="4.2" fill="#31688e"/>
<circle cx="592.6" cy="432.92" r="4.2" fill="#31688e"/>
<circle cx="644.02" cy="432.92" r="4.2" fill="#31688e"/>
<circle cx="663.3" cy="432.92" r="4.2" fill="#31688e"/>
<circle cx="676.15" cy="432.92" r="4.2" fill="#31688e"/>
<circle cx="708.29" cy="432.92" r="4.2" fill="#31688e"/>
<circle cx="714.71" cy="432.92" r="4.2" fill="#31688e"/>
<circle cx="721.14" cy="432.92" r="4.2" fill="#31688e"/>
<circle cx="753.27" cy="432.92" r="4.2" fill="#31688e"/>
<circle cx="759.7" cy="432.92" r="4.2" fill="#31688e"/>
<circle cx="766.13" cy="432.92" r="4.2" fill="#31688e"/>
<circle cx="843.25" cy="432.92" r="4.2" fill="#31688e"/>
<circle cx="624.74" cy="425.16" r="4.2" fill="#31688e"/>
<circle cx="676.15" cy="425.16" r="4.2" fill="#31688e"/>
<circle cx="714.71" cy="425.16" r="4.2" fill="#31688e"/>
<circle cx="733.99" cy="425.16" r="4.2" fill="#31688e"/>
<circle cx="740.42" cy="425.16" r="4.2" fill="#31688e"/>
<circle cx="759.7" cy="425.16" r="4.2" fill="#31688e"/>
<circle cx="766.13" cy="425.16" r="4.2" fill="#31688e"/>
<circle cx="791.84" cy="425.16" r="4.2" fill="#31688e"/>
<circle cx="798.26" cy="425.16" r="4.2" fill="#31688e"/>
<circle cx="817.55" cy="425.16" r="4.2" fill="#31688e"/>
<circle cx="823.97" cy="425.16" r="4.2" fill="#31688e"/>
<circle cx="978.22" cy="425.16" r="4.2" fill="#31688e"/>
<circle cx="676.15" cy="417.4" r="4.2" fill="#31688e"/>
<circle cx="689" cy="417.4" r="4.2" fill="#31688e"/>
<circle cx="708.29" cy="417.4" r="4.2" fill="#31688e"/>
<circle cx="727.57" cy="417.4" r="4.2" fill="#31688e"/>
<circle cx="733.99" cy="417.4" r="4.2" fill="#31688e"/>
<circle cx="740.42" cy="417.4" r="4.2" fill="#31688e"/>
<circle cx="746.85" cy="417.4" r="4.2" fill="#31688e"/>
<circle cx="766.13" cy="417.4" r="4.2" fill="#31688e"/>
<circle cx="772.56" cy="417.4" r="4.2" fill="#31688e"/>
<circle cx="811.12" cy="417.4" r="4.2" fill="#31688e"/>
<circle cx="817.55" cy="417.4" r="4.2" fill="#31688e"/>
<circle cx="836.83" cy="417.4" r="4.2" fill="#31688e"/>
<circle cx="843.25" cy="417.4" r="4.2" fill="#31688e"/>
<circle cx="631.16" cy="409.64" r="4.2" fill="#31688e"/>
<circle cx="637.59" cy="409.64" r="4.2" fill="#31688e"/>
<circle cx="644.02" cy="409.64" r="4.2" fill="#31688e"/>
<circle cx="650.44" cy="409.64" r="4.2" fill="#31688e"/>
<circle cx="669.72" cy="409.64" r="4.2" fill="#31688e"/>
<circle cx="682.58" cy="409.64" r="4.2" fill="#31688e"/>
<circle cx="701.86" cy="409.64" r="4.2" fill="#31688e"/>
<circle cx="721.14" cy="409.64" r="4.2" fill="#31688e"/>
<circle cx="727.57" cy="409.64" r="4.2" fill="#31688e"/>
<circle cx="740.42" cy="409.64" r="4.2" fill="#31688e"/>
<circle cx="746.85" cy="409.64" r="4.2" fill="#31688e"/>
<circle cx="753.27" cy="409.64" r="4.2" fill="#31688e"/>
<circle cx="766.13" cy="409.64" r="4.2" fill="#31688e"/>
<circle cx="811.12" cy="409.64" r="4.2" fill="#31688e"/>
<circle cx="836.83" cy="409.64" r="4.2" fill="#31688e"/>
<circle cx="849.68" cy="409.64" r="4.2" fill="#31688e"/>
<circle cx="856.11" cy="409.64" r="4.2" fill="#31688e"/>
<circle cx="965.37" cy="409.64" r="4.2" fill="#31688e"/>
<circle cx="669.72" cy="401.88" r="4.2" fill="#31688e"/>
<circle cx="695.43" cy="401.88" r="4.2" fill="#31688e"/>
<circle cx="701.86" cy="401.88" r="4.2" fill="#31688e"/>
<circle cx="714.71" cy="401.88" r="4.2" fill="#31688e"/>
<circle cx="721.14" cy="401.88" r="4.2" fill="#31688e"/>
<circle cx="733.99" cy="401.88" r="4.2" fill="#31688e"/>
<circle cx="746.85" cy="401.88" r="4.2" fill="#31688e"/>
<circle cx="753.27" cy="401.88" r="4.2" fill="#31688e"/>
<circle cx="766.13" cy="401.88" r="4.2" fill="#31688e"/>
<circle cx="804.69" cy="401.88" r="4.2" fill="#31688e"/>
<circle cx="836.83" cy="401.88" r="4.2" fill="#31688e"/>
<circle cx="843.25" cy="401.88" r="4.2" fill="#31688e"/>
<circle cx="669.72" cy="394.12" r="4.2" fill="#31688e"/>
<circle cx="676.15" cy="394.12" r="4.2" fill="#31688e"/>
<circle cx="689" cy="394.12" r="4.2" fill="#31688e"/>
<circle cx="714.71" cy="394.12" r="4.2" fill="#31688e"/>
<circle cx="721.14" cy="394.12" r="4.2" fill="#31688e"/>
<circle cx="727.57" cy="394.12" r="4.2" fill="#31688e"/>
<circle cx="746.85" cy="394.12" r="4.2" fill="#31688e"/>
<circle cx="766.13" cy="394.12" r="4.2" fill="#31688e"/>
<circle cx="772.56" cy="394.12" r="4.2" fill="#31688e"/>
<circle cx="778.98" cy="394.12" r="4.2" fill="#31688e"/>
<circle cx="804.69" cy="394.12" r="4.2" fill="#31688e"/>
<circle cx="811.12" cy="394.12" r="4.2" fill="#31688e"/>
<circle cx="843.25" cy="394.12" r="4.2" fill="#31688e"/>
<circle cx="618.31" cy="386.36" r="4.2" fill="#31688e"/>
<circle cx="676.15" cy="386.36" r="4.2" fill="#31688e"/>
<circle cx="689" cy="386.36" r="4.2" fill="#31688e"/>
<circle cx="721.14" cy="386.36" r="4.2" fill="#31688e"/>
<circle cx="740.42" cy="386.36" r="4.2" fill="#31688e"/>
<circle cx="746.85" cy="386.36" r="4.2" fill="#31688e"/>
<circle cx="778.98" cy="386.36" r="4.2" fill="#31688e"/>
<circle cx="785.41" cy="386.36" r="4.2" fill="#31688e"/>
<circle cx="817.55" cy="386.36" r="4.2" fill="#31688e"/>
<circle cx="836.83" cy="386.36" r="4.2" fill="#31688e"/>
<circle cx="644.02" cy="378.6" r="4.2" fill="#31688e"/>
<circle cx="656.87" cy="378.6" r="4.2" fill="#31688e"/>
<circle cx="676.15" cy="378.6" r="4.2" fill="#31688e"/>
<circle cx="689" cy="378.6" r="4.2" fill="#31688e"/>
<circle cx="714.71" cy="378.6" r="4.2" fill="#31688e"/>
<circle cx="721.14" cy="378.6" r="4.2" fill="#31688e"/>
<circle cx="727.57" cy="378.6" r="4.2" fill="#31688e"/>
<circle cx="740.42" cy="378.6" r="4.2" fill="#31688e"/>
<circle cx="766.13" cy="378.6" r="4.2" fill="#31688e"/>
<circle cx="772.56" cy="378.6" r="4.2" fill="#31688e"/>
<circle cx="778.98" cy="378.6" r="4.2" fill="#31688e"/>
<circle cx="798.26" cy="378.6" r="4.2" fill="#31688e"/>
<circle cx="836.83" cy="378.6" r="4.2" fill="#31688e"/>
<circle cx="843.25" cy="378.6" r="4.2" fill="#31688e"/>
<circle cx="849.68" cy="378.6" r="4.2" fill="#31688e"/>
<circle cx="862.53" cy="378.6" r="4.2" fill="#31688e"/>
<circle cx="644.02" cy="370.84" r="4.2" fill="#31688e"/>
<circle cx="650.44" cy="370.84" r="4.2" fill="#31688e"/>
<circle cx="656.87" cy="370.84" r="4.2" fill="#31688e"/>
<circle cx="663.3" cy="370.84" r="4.2" fill="#31688e"/>
<circle cx="676.15" cy="370.84" r="4.2" fill="#31688e"/>
<circle cx="746.85" cy="370.84" r="4.2" fill="#31688e"/>
<circle cx="772.56" cy="370.84" r="4.2" fill="#31688e"/>
<circle cx="785.41" cy="370.84" r="4.2" fill="#31688e"/>
<circle cx="804.69" cy="370.84" r="4.2" fill="#31688e"/>
<circle cx="823.97" cy="370.84" r="4.2" fill="#31688e"/>
<circle cx="836.83" cy="370.84" r="4.2" fill="#31688e"/>
<circle cx="843.25" cy="370.84" r="4.2" fill="#31688e"/>
<circle cx="656.87" cy="363.08" r="4.2" fill="#31688e"/>
<circle cx="676.15" cy="363.08" r="4.2" fill="#31688e"/>
<circle cx="689" cy="363.08" r="4.2" fill="#31688e"/>
<circle cx="695.43" cy="363.08" r="4.2" fill="#31688e"/>
<circle cx="701.86" cy="363.08" r="4.2" fill="#31688e"/>
<circle cx="714.71" cy="363.08" r="4.2" fill="#31688e"/>
<circle cx="721.14" cy="363.08" r="4.2" fill="#31688e"/>
<circle cx="733.99" cy="363.08" r="4.2" fill="#31688e"/>
<circle cx="740.42" cy="363.08" r="4.2" fill="#31688e"/>
<circle cx="753.27" cy="363.08" r="4.2" fill="#31688e"/>
<circle cx="759.7" cy="363.08" r="4.2" fill="#31688e"/>
<circle cx="778.98" cy="363.08" r="4.2" fill="#31688e"/>
<circle cx="785.41" cy="363.08" r="4.2" fill="#31688e"/>
<circle cx="798.26" cy="363.08" r="4.2" fill="#31688e"/>
<circle cx="811.12" cy="363.08" r="4.2" fill="#31688e"/>
<circle cx="817.55" cy="363.08" r="4.2" fill="#31688e"/>
<circle cx="631.16" cy="355.32" r="4.2" fill="#31688e"/>
<circle cx="656.87" cy="355.32" r="4.2" fill="#31688e"/>
<circle cx="695.43" cy="355.32" r="4.2" fill="#31688e"/>
<circle cx="708.29" cy="355.32" r="4.2" fill="#31688e"/>
<circle cx="753.27" cy="355.32" r="4.2" fill="#31688e"/>
<circle cx="759.7" cy="355.32" r="4.2" fill="#31688e"/>
<circle cx="791.84" cy="355.32" r="4.2" fill="#31688e"/>
<circle cx="830.4" cy="355.32" r="4.2" fill="#31688e"/>
<circle cx="868.96" cy="355.32" r="4.2" fill="#31688e"/>
<circle cx="669.72" cy="347.56" r="4.2" fill="#31688e"/>
<circle cx="695.43" cy="347.56" r="4.2" fill="#31688e"/>
<circle cx="721.14" cy="347.56" r="4.2" fill="#31688e"/>
<circle cx="740.42" cy="347.56" r="4.2" fill="#31688e"/>
<circle cx="746.85" cy="347.56" r="4.2" fill="#31688e"/>
<circle cx="772.56" cy="347.56" r="4.2" fill="#31688e"/>
<circle cx="823.97" cy="347.56" r="4.2" fill="#31688e"/>
<circle cx="830.4" cy="347.56" r="4.2" fill="#31688e"/>
<circle cx="849.68" cy="343.68" r="4.2" fill="#31688e"/>
<circle cx="618.31" cy="339.8" r="4.2" fill="#31688e"/>
<circle cx="669.72" cy="339.8" r="4.2" fill="#31688e"/>
<circle cx="772.56" cy="339.8" r="4.2" fill="#31688e"/>
<circle cx="804.69" cy="339.8" r="4.2" fill="#31688e"/>
<circle cx="849.68" cy="339.8" r="4.2" fill="#31688e"/>
<circle cx="856.11" cy="339.8" r="4.2" fill="#31688e"/>
<circle cx="663.3" cy="332.04" r="4.2" fill="#31688e"/>
<circle cx="721.14" cy="332.04" r="4.2" fill="#31688e"/>
<circle cx="746.85" cy="332.04" r="4.2" fill="#31688e"/>
<circle cx="759.7" cy="332.04" r="4.2" fill="#31688e"/>
<circle cx="766.13" cy="332.04" r="4.2" fill="#31688e"/>
<circle cx="811.12" cy="332.04" r="4.2" fill="#31688e"/>
<circle cx="875.39" cy="332.04" r="4.2" fill="#31688e"/>
<circle cx="637.59" cy="324.28" r="4.2" fill="#31688e"/>
<circle cx="689" cy="324.28" r="4.2" fill="#31688e"/>
<circle cx="714.71" cy="324.28" r="4.2" fill="#31688e"/>
<circle cx="746.85" cy="324.28" r="4.2" fill="#31688e"/>
<circle cx="753.27" cy="324.28" r="4.2" fill="#31688e"/>
<circle cx="785.41" cy="324.28" r="4.2" fill="#31688e"/>
<circle cx="881.82" cy="324.28" r="4.2" fill="#31688e"/>
<circle cx="901.1" cy="324.28" r="4.2" fill="#31688e"/>
<circle cx="721.14" cy="316.52" r="4.2" fill="#31688e"/>
<circle cx="753.27" cy="316.52" r="4.2" fill="#31688e"/>
<circle cx="798.26" cy="316.52" r="4.2" fill="#31688e"/>
<circle cx="894.67" cy="316.52" r="4.2" fill="#31688e"/>
<circle cx="676.15" cy="308.76" r="4.2" fill="#31688e"/>
<circle cx="714.71" cy="308.76" r="4.2" fill="#31688e"/>
<circle cx="778.98" cy="308.76" r="4.2" fill="#31688e"/>
<circle cx="811.12" cy="308.76" r="4.2" fill="#31688e"/>
<circle cx="823.97" cy="308.76" r="4.2" fill="#31688e"/>
<circle cx="836.83" cy="308.76" r="4.2" fill="#31688e"/>
<circle cx="849.68" cy="308.76" r="4.2" fill="#31688e"/>
<circle cx="888.24" cy="308.76" r="4.2" fill="#31688e"/>
<circle cx="1003.93" cy="308.76" r="4.2" fill="#31688e"/>
<circle cx="650.44" cy="301" r="4.2" fill="#31688e"/>
<circle cx="733.99" cy="301" r="4.2" fill="#31688e"/>
<circle cx="753.27" cy="301" r="4.2" fill="#31688e"/>
<circle cx="721.14" cy="293.24" r="4.2" fill="#31688e"/>
<circle cx="727.57" cy="293.24" r="4.2" fill="#31688e"/>
<circle cx="830.4" cy="293.24" r="4.2" fill="#31688e"/>
<circle cx="843.25" cy="293.24" r="4.2" fill="#31688e"/>
<circle cx="849.68" cy="293.24" r="4.2" fill="#31688e"/>
<circle cx="740.42" cy="285.48" r="4.2" fill="#31688e"/>
<circle cx="791.84" cy="285.48" r="4.2" fill="#31688e"/>
<circle cx="798.26" cy="285.48" r="4.2" fill="#31688e"/>
<circle cx="849.68" cy="285.48" r="4.2" fill="#31688e"/>
<circle cx="971.79" cy="285.48" r="4.2" fill="#31688e"/>
<circle cx="650.44" cy="277.72" r="4.2" fill="#31688e"/>
<circle cx="868.96" cy="277.72" r="4.2" fill="#31688e"/>
<circle cx="984.65" cy="277.72" r="4.2" fill="#31688e"/>
<circle cx="778.98" cy="269.96" r="4.2" fill="#31688e"/>
<circle cx="849.68" cy="269.96" r="4.2" fill="#31688e"/>
<circle cx="701.86" cy="262.2" r="4.2" fill="#31688e"/>
<circle cx="708.29" cy="262.2" r="4.2" fill="#31688e"/>
<circle cx="766.13" cy="262.2" r="4.2" fill="#31688e"/>
<circle cx="772.56" cy="262.2" r="4.2" fill="#31688e"/>
<circle cx="849.68" cy="262.2" r="4.2" fill="#31688e"/>
<circle cx="881.82" cy="262.2" r="4.2" fill="#31688e"/>
<circle cx="708.29" cy="254.44" r="4.2" fill="#31688e"/>
<circle cx="733.99" cy="254.44" r="4.2" fill="#31688e"/>
<circle cx="746.85" cy="254.44" r="4.2" fill="#31688e"/>
<circle cx="862.53" cy="254.44" r="4.2" fill="#31688e"/>
<circle cx="958.94" cy="254.44" r="4.2" fill="#31688e"/>
<circle cx="766.13" cy="246.68" r="4.2" fill="#31688e"/>
<circle cx="849.68" cy="246.68" r="4.2" fill="#31688e"/>
<circle cx="669.72" cy="238.92" r="4.2" fill="#31688e"/>
<circle cx="695.43" cy="238.92" r="4.2" fill="#31688e"/>
<circle cx="778.98" cy="238.92" r="4.2" fill="#31688e"/>
<circle cx="798.26" cy="238.92" r="4.2" fill="#31688e"/>
<circle cx="881.82" cy="238.92" r="4.2" fill="#31688e"/>
<circle cx="753.27" cy="231.16" r="4.2" fill="#31688e"/>
<circle cx="785.41" cy="231.16" r="4.2" fill="#31688e"/>
<circle cx="868.96" cy="223.4" r="4.2" fill="#31688e"/>
<circle cx="759.7" cy="215.64" r="4.2" fill="#31688e"/>
<circle cx="843.25" cy="207.88" r="4.2" fill="#31688e"/>
<circle cx="759.7" cy="200.12" r="4.2" fill="#31688e"/>
<circle cx="856.11" cy="200.12" r="4.2" fill="#31688e"/>
<circle cx="862.53" cy="200.12" r="4.2" fill="#31688e"/>
<circle cx="888.24" cy="200.12" r="4.2" fill="#31688e"/>
<circle cx="695.43" cy="176.84" r="4.2" fill="#31688e"/>
<circle cx="817.55" cy="138.04" r="4.2" fill="#31688e"/>
<circle cx="875.39" cy="99.24" r="4.2" fill="#31688e"/>
</g>
<g fill="#23798c" fill-opacity=".8">
<circle cx="611.88" cy="487.24" r="2.95"/>
<circle cx="631.16" cy="479.48" r="2.95"/>
<circle cx="663.3" cy="479.48" r="2.95"/>
<circle cx="605.45" cy="471.72" r="2.95"/>
<circle cx="624.74" cy="471.72" r="2.95"/>
<circle cx="644.02" cy="471.72" r="2.95"/>
<circle cx="592.6" cy="463.96" r="2.95"/>
<circle cx="624.74" cy="463.96" r="2.95"/>
<circle cx="592.6" cy="456.2" r="2.95"/>
<circle cx="631.16" cy="448.44" r="2.95"/>
<circle cx="663.3" cy="448.44" r="2.95"/>
<circle cx="669.72" cy="448.44" r="2.95"/>
<circle cx="714.71" cy="448.44" r="2.95"/>
<circle cx="727.57" cy="448.44" r="2.95"/>
<circle cx="733.99" cy="448.44" r="2.95"/>
<circle cx="644.02" cy="440.68" r="2.95"/>
<circle cx="669.72" cy="440.68" r="2.95"/>
<circle cx="676.15" cy="440.68" r="2.95"/>
<circle cx="701.86" cy="440.68" r="2.95"/>
<circle cx="708.29" cy="440.68" r="2.95"/>
<circle cx="714.71" cy="440.68" r="2.95"/>
<circle cx="766.13" cy="440.68" r="2.95"/>
<circle cx="785.41" cy="440.68" r="2.95"/>
<circle cx="811.12" cy="440.68" r="2.95"/>
<circle cx="849.68" cy="440.68" r="2.95"/>
<circle cx="592.6" cy="432.92" r="2.95"/>
<circle cx="644.02" cy="432.92" r="2.95"/>
<circle cx="663.3" cy="432.92" r="2.95"/>
<circle cx="676.15" cy="432.92" r="2.95"/>
<circle cx="708.29" cy="432.92" r="2.95"/>
<circle cx="714.71" cy="432.92" r="2.95"/>
<circle cx="721.14" cy="432.92" r="2.95"/>
<circle cx="753.27" cy="432.92" r="2.95"/>
<circle cx="759.7" cy="432.92" r="2.95"/>
<circle cx="766.13" cy="432.92" r="2.95"/>
<circle cx="843.25" cy="432.92" r="2.95"/>
<circle cx="624.74" cy="425.16" r="2.95"/>
<circle cx="676.15" cy="425.16" r="2.95"/>
<circle cx="714.71" cy="425.16" r="2.95"/>
<circle cx="733.99" cy="425.16" r="2.95"/>
<circle cx="740.42" cy="425.16" r="2.95"/>
<circle cx="759.7" cy="425.16" r="2.95"/>
<circle cx="766.13" cy="425.16" r="2.95"/>
<circle cx="791.84" cy="425.16" r="2.95"/>
<circle cx="798.26" cy="425.16" r="2.95"/>
<circle cx="817.55" cy="425.16" r="2.95"/>
<circle cx="823.97" cy="425.16" r="2.95"/>
<circle cx="978.22" cy="425.16" r="2.95"/>
<circle cx="676.15" cy="417.4" r="2.95"/>
<circle cx="689" cy="417.4" r="2.95"/>
<circle cx="708.29" cy="417.4" r="2.95"/>
<circle cx="727.57" cy="417.4" r="2.95"/>
<circle cx="733.99" cy="417.4" r="2.95"/>
<circle cx="740.42" cy="417.4" r="2.95"/>
<circle cx="746.85" cy="417.4" r="2.95"/>
<circle cx="766.13" cy="417.4" r="2.95"/>
<circle cx="772.56" cy="417.4" r="2.95"/>
<circle cx="811.12" cy="417.4" r="2.95"/>
<circle cx="817.55" cy="417.4" r="2.95"/>
<circle cx="836.83" cy="417.4" r="2.95"/>
<circle cx="843.25" cy="417.4" r="2.95"/>
<circle cx="631.16" cy="409.64" r="2.95"/>
<circle cx="637.59" cy="409.64" r="2.95"/>
<circle cx="644.02" cy="409.64" r="2.95"/>
<circle cx="650.44" cy="409.64" r="2.95"/>
<circle cx="669.72" cy="409.64" r="2.95"/>
<circle cx="682.58" cy="409.64" r="2.95"/>
<circle cx="701.86" cy="409.64" r="2.95"/>
<circle cx="721.14" cy="409.64" r="2.95"/>
<circle cx="727.57" cy="409.64" r="2.95"/>
<circle cx="740.42" cy="409.64" r="2.95"/>
<circle cx="746.85" cy="409.64" r="2.95"/>
<circle cx="753.27" cy="409.64" r="2.95"/>
<circle cx="766.13" cy="409.64" r="2.95"/>
<circle cx="811.12" cy="409.64" r="2.95"/>
<circle cx="836.83" cy="409.64" r="2.95"/>
<circle cx="849.68" cy="409.64" r="2.95"/>
<circle cx="856.11" cy="409.64" r="2.95"/>
<circle cx="965.37" cy="409.64" r="2.95"/>
<circle cx="669.72" cy="401.88" r="2.95"/>
<circle cx="695.43" cy="401.88" r="2.95"/>
<circle cx="701.86" cy="401.88" r="2.95"/>
<circle cx="714.71" cy="401.88" r="2.95"/>
<circle cx="721.14" cy="401.88" r="2.95"/>
<circle cx="733.99" cy="401.88" r="2.95"/>
<circle cx="746.85" cy="401.88" r="2.95"/>
<circle cx="753.27" cy="401.88" r="2.95"/>
<circle cx="766.13" cy="401.88" r="2.95"/>
<circle cx="804.69" cy="401.88" r="2.95"/>
<circle cx="836.83" cy="401.88" r="2.95"/>
<circle cx="843.25" cy="401.88" r="2.95"/>
<circle cx="669.72" cy="394.12" r="2.95"/>
<circle cx="676.15" cy="394.12" r="2.95"/>
<circle cx="689" cy="394.12" r="2.95"/>
<circle cx="714.71" cy="394.12" r="2.95"/>
<circle cx="721.14" cy="394.12" r="2.95"/>
<circle cx="727.57" cy="394.12" r="2.95"/>
<circle cx="746.85" cy="394.12" r="2.95"/>
<circle cx="766.13" cy="394.12" r="2.95"/>
<circle cx="772.56" cy="394.12" r="2.95"/>
<circle cx="778.98" cy="394.12" r="2.95"/>
<circle cx="804.69" cy="394.12" r="2.95"/>
<circle cx="811.12" cy="394.12" r="2.95"/>
<circle cx="843.25" cy="394.12" r="2.95"/>
<circle cx="618.31" cy="386.36" r="2.95"/>
<circle cx="676.15" cy="386.36" r="2.95"/>
<circle cx="689" cy="386.36" r="2.95"/>
<circle cx="721.14" cy="386.36" r="2.95"/>
<circle cx="740.42" cy="386.36" r="2.95"/>
<circle cx="746.85" cy="386.36" r="2.95"/>
<circle cx="778.98" cy="386.36" r="2.95"/>
<circle cx="785.41" cy="386.36" r="2.95"/>
<circle cx="817.55" cy="386.36" r="2.95"/>
<circle cx="836.83" cy="386.36" r="2.95"/>
<circle cx="644.02" cy="378.6" r="2.95"/>
<circle cx="656.87" cy="378.6" r="2.95"/>
<circle cx="676.15" cy="378.6" r="2.95"/>
<circle cx="689" cy="378.6" r="2.95"/>
<circle cx="714.71" cy="378.6" r="2.95"/>
<circle cx="721.14" cy="378.6" r="2.95"/>
<circle cx="727.57" cy="378.6" r="2.95"/>
<circle cx="740.42" cy="378.6" r="2.95"/>
<circle cx="766.13" cy="378.6" r="2.95"/>
<circle cx="772.56" cy="378.6" r="2.95"/>
<circle cx="778.98" cy="378.6" r="2.95"/>
<circle cx="798.26" cy="378.6" r="2.95"/>
<circle cx="836.83" cy="378.6" r="2.95"/>
<circle cx="843.25" cy="378.6" r="2.95"/>
<circle cx="849.68" cy="378.6" r="2.95"/>
<circle cx="862.53" cy="378.6" r="2.95"/>
<circle cx="644.02" cy="370.84" r="2.95"/>
<circle cx="650.44" cy="370.84" r="2.95"/>
<circle cx="656.87" cy="370.84" r="2.95"/>
<circle cx="663.3" cy="370.84" r="2.95"/>
<circle cx="676.15" cy="370.84" r="2.95"/>
<circle cx="746.85" cy="370.84" r="2.95"/>
<circle cx="772.56" cy="370.84" r="2.95"/>
<circle cx="785.41" cy="370.84" r="2.95"/>
<circle cx="804.69" cy="370.84" r="2.95"/>
<circle cx="823.97" cy="370.84" r="2.95"/>
<circle cx="836.83" cy="370.84" r="2.95"/>
<circle cx="843.25" cy="370.84" r="2.95"/>
<circle cx="656.87" cy="363.08" r="2.95"/>
<circle cx="676.15" cy="363.08" r="2.95"/>
<circle cx="689" cy="363.08" r="2.95"/>
<circle cx="695.43" cy="363.08" r="2.95"/>
<circle cx="701.86" cy="363.08" r="2.95"/>
<circle cx="714.71" cy="363.08" r="2.95"/>
<circle cx="721.14" cy="363.08" r="2.95"/>
<circle cx="733.99" cy="363.08" r="2.95"/>
<circle cx="740.42" cy="363.08" r="2.95"/>
<circle cx="753.27" cy="363.08" r="2.95"/>
<circle cx="759.7" cy="363.08" r="2.95"/>
<circle cx="778.98" cy="363.08" r="2.95"/>
<circle cx="785.41" cy="363.08" r="2.95"/>
<circle cx="798.26" cy="363.08" r="2.95"/>
<circle cx="811.12" cy="363.08" r="2.95"/>
<circle cx="817.55" cy="363.08" r="2.95"/>
<circle cx="631.16" cy="355.32" r="2.95"/>
<circle cx="656.87" cy="355.32" r="2.95"/>
<circle cx="695.43" cy="355.32" r="2.95"/>
<circle cx="708.29" cy="355.32" r="2.95"/>
<circle cx="753.27" cy="355.32" r="2.95"/>
<circle cx="759.7" cy="355.32" r="2.95"/>
<circle cx="791.84" cy="355.32" r="2.95"/>
<circle cx="830.4" cy="355.32" r="2.95"/>
<circle cx="868.96" cy="355.32" r="2.95"/>
<circle cx="669.72" cy="347.56" r="2.95"/>
<circle cx="695.43" cy="347.56" r="2.95"/>
<circle cx="721.14" cy="347.56" r="2.95"/>
<circle cx="740.42" cy="347.56" r="2.95"/>
<circle cx="746.85" cy="347.56" r="2.95"/>
<circle cx="772.56" cy="347.56" r="2.95"/>
<circle cx="823.97" cy="347.56" r="2.95"/>
<circle cx="830.4" cy="347.56" r="2.95"/>
<circle cx="849.68" cy="343.68" r="2.95"/>
<circle cx="618.31" cy="339.8" r="2.95"/>
<circle cx="669.72" cy="339.8" r="2.95"/>
<circle cx="772.56" cy="339.8" r="2.95"/>
<circle cx="804.69" cy="339.8" r="2.95"/>
<circle cx="849.68" cy="339.8" r="2.95"/>
<circle cx="856.11" cy="339.8" r="2.95"/>
<circle cx="663.3" cy="332.04" r="2.95"/>
<circle cx="721.14" cy="332.04" r="2.95"/>
<circle cx="746.85" cy="332.04" r="2.95"/>
<circle cx="759.7" cy="332.04" r="2.95"/>
<circle cx="766.13" cy="332.04" r="2.95"/>
<circle cx="811.12" cy="332.04" r="2.95"/>
<circle cx="875.39" cy="332.04" r="2.95"/>
<circle cx="637.59" cy="324.28" r="2.95"/>
<circle cx="689" cy="324.28" r="2.95"/>
<circle cx="714.71" cy="324.28" r="2.95"/>
<circle cx="746.85" cy="324.28" r="2.95"/>
<circle cx="753.27" cy="324.28" r="2.95"/>
<circle cx="785.41" cy="324.28" r="2.95"/>
<circle cx="881.82" cy="324.28" r="2.95"/>
<circle cx="901.1" cy="324.28" r="2.95"/>
<circle cx="721.14" cy="316.52" r="2.95"/>
<circle cx="753.27" cy="316.52" r="2.95"/>
<circle cx="798.26" cy="316.52" r="2.95"/>
<circle cx="894.67" cy="316.52" r="2.95"/>
<circle cx="676.15" cy="308.76" r="2.95"/>
<circle cx="714.71" cy="308.76" r="2.95"/>
<circle cx="778.98" cy="308.76" r="2.95"/>
<circle cx="811.12" cy="308.76" r="2.95"/>
<circle cx="823.97" cy="308.76" r="2.95"/>
<circle cx="836.83" cy="308.76" r="2.95"/>
<circle cx="849.68" cy="308.76" r="2.95"/>
<circle cx="888.24" cy="308.76" r="2.95"/>
<circle cx="1003.93" cy="308.76" r="2.95"/>
<circle cx="650.44" cy="301" r="2.95"/>
<circle cx="733.99" cy="301" r="2.95"/>
<circle cx="753.27" cy="301" r="2.95"/>
<circle cx="721.14" cy="293.24" r="2.95"/>
<circle cx="727.57" cy="293.24" r="2.95"/>
<circle cx="830.4" cy="293.24" r="2.95"/>
<circle cx="843.25" cy="293.24" r="2.95"/>
<circle cx="849.68" cy="293.24" r="2.95"/>
<circle cx="740.42" cy="285.48" r="2.95"/>
<circle cx="791.84" cy="285.48" r="2.95"/>
<circle cx="798.26" cy="285.48" r="2.95"/>
<circle cx="849.68" cy="285.48" r="2.95"/>
<circle cx="971.79" cy="285.48" r="2.95"/>
<circle cx="650.44" cy="277.72" r="2.95"/>
<circle cx="868.96" cy="277.72" r="2.95"/>
<circle cx="984.65" cy="277.72" r="2.95"/>
<circle cx="778.98" cy="269.96" r="2.95"/>
<circle cx="849.68" cy="269.96" r="2.95"/>
<circle cx="701.86" cy="262.2" r="2.95"/>
<circle cx="708.29" cy="262.2" r="2.95"/>
<circle cx="766.13" cy="262.2" r="2.95"/>
<circle cx="772.56" cy="262.2" r="2.95"/>
<circle cx="849.68" cy="262.2" r="2.95"/>
<circle cx="881.82" cy="262.2" r="2.95"/>
<circle cx="708.29" cy="254.44" r="2.95"/>
<circle cx="733.99" cy="254.44" r="2.95"/>
<circle cx="746.85" cy="254.44" r="2.95"/>
<circle cx="862.53" cy="254.44" r="2.95"/>
<circle cx="958.94" cy="254.44" r="2.95"/>
<circle cx="766.13" cy="246.68" r="2.95"/>
<circle cx="849.68" cy="246.68" r="2.95"/>
<circle cx="669.72" cy="238.92" r="2.95"/>
<circle cx="695.43" cy="238.92" r="2.95"/>
<circle cx="778.98" cy="238.92" r="2.95"/>
<circle cx="798.26" cy="238.92" r="2.95"/>
<circle cx="881.82" cy="238.92" r="2.95"/>
<circle cx="753.27" cy="231.16" r="2.95"/>
<circle cx="785.41" cy="231.16" r="2.95"/>
<circle cx="868.96" cy="223.4" r="2.95"/>
<circle cx="759.7" cy="215.64" r="2.95"/>
<circle cx="843.25" cy="207.88" r="2.95"/>
<circle cx="759.7" cy="200.12" r="2.95"/>
<circle cx="856.11" cy="200.12" r="2.95"/>
<circle cx="862.53" cy="200.12" r="2.95"/>
<circle cx="888.24" cy="200.12" r="2.95"/>
<circle cx="695.43" cy="176.84" r="2.95"/>
<circle cx="817.55" cy="138.04" r="2.95"/>
<circle cx="875.39" cy="99.24" r="2.95"/>
</g>
<polygon points="593.5,394.0 601.7,392.5 609.9,391.0 618.2,389.5 626.4,388.0 634.6,386.5 642.8,385.0 651.0,383.4 659.2,381.9 667.5,380.3 675.7,378.7 683.9,377.1 692.1,375.5 700.3,373.8 708.6,372.0 716.8,370.2 725.0,368.2 733.2,366.1 741.4,363.8 749.6,361.3 757.9,358.5 766.1,355.4 774.3,352.2 782.5,348.8 790.7,345.3 799.0,341.7 807.2,338.0 815.4,334.3 823.6,330.6 831.8,326.8 840.0,323.0 848.3,319.2 856.5,315.4 864.7,311.5 872.9,307.7 881.1,303.8 889.3,300.0 897.6,296.1 905.8,292.2 914.0,288.4 922.2,284.5 930.4,280.6 938.7,276.7 946.9,272.8 955.1,268.9 963.3,265.1 971.5,261.2 979.7,257.3 988.0,253.4 996.2,249.5 1004.4,245.6 1004.4,321.2 996.2,322.8 988.0,324.4 979.7,326.0 971.5,327.6 963.3,329.2 955.1,330.8 946.9,332.4 938.7,334.0 930.4,335.6 922.2,337.3 914.0,338.9 905.8,340.5 897.6,342.1 889.3,343.7 881.1,345.4 872.9,347.0 864.7,348.6 856.5,350.3 848.3,351.9 840.0,353.6 831.8,355.3 823.6,357.0 815.4,358.7 807.2,360.4 799.0,362.1 790.7,363.9 782.5,365.7 774.3,367.6 766.1,369.6 757.9,371.6 749.6,373.8 741.4,376.1 733.2,378.6 725.0,381.3 716.8,384.2 708.6,387.3 700.3,390.5 692.1,393.9 683.9,397.3 675.7,400.8 667.5,404.3 659.2,407.9 651.0,411.5 642.8,415.2 634.6,418.9 626.4,422.5 618.2,426.2 609.9,429.9 601.7,433.6 593.5,437.4" fill="#23798c" fill-opacity=".15"/>
<g fill="#1f9e89" fill-opacity=".8">
<path d="M591.4 479.36h2.4v2.8h2.8v2.4h-2.8v2.8h-2.4v-2.8h-2.8v-2.4h2.8z"/>
<path d="M674.95 475.48h2.4v2.8h2.8v2.4h-2.8v2.8h-2.4v-2.8h-2.8v-2.4h2.8z"/>
<path d="M623.53 467.72h2.4v2.8h2.8v2.4h-2.8v2.8h-2.4v-2.8h-2.8v-2.4h2.8z"/>
<path d="M649.24 467.72h2.4v2.8h2.8v2.4h-2.8v2.8h-2.4v-2.8h-2.8v-2.4h2.8z"/>
<path d="M655.67 467.72h2.4v2.8h2.8v2.4h-2.8v2.8h-2.4v-2.8h-2.8v-2.4h2.8z"/>
<path d="M668.52 467.72h2.4v2.8h2.8v2.4h-2.8v2.8h-2.4v-2.8h-2.8v-2.4h2.8z"/>
<path d="M610.68 459.96h2.4v2.8h2.8v2.4h-2.8v2.8h-2.4v-2.8h-2.8v-2.4h2.8z"/>
<path d="M662.1 459.96h2.4v2.8h2.8v2.4h-2.8v2.8h-2.4v-2.8h-2.8v-2.4h2.8z"/>
<path d="M726.37 452.2h2.4v2.8h2.8v2.4h-2.8v2.8h-2.4v-2.8h-2.8v-2.4h2.8z"/>
<path d="M745.65 452.2h2.4v2.8h2.8v2.4h-2.8v2.8h-2.4v-2.8h-2.8v-2.4h2.8z"/>
<path d="M636.39 444.44h2.4v2.8h2.8v2.4h-2.8v2.8h-2.4v-2.8h-2.8v-2.4h2.8z"/>
<path d="M649.24 444.44h2.4v2.8h2.8v2.4h-2.8v2.8h-2.4v-2.8h-2.8v-2.4h2.8z"/>
<path d="M681.38 444.44h2.4v2.8h2.8v2.4h-2.8v2.8h-2.4v-2.8h-2.8v-2.4h2.8z"/>
<path d="M719.94 444.44h2.4v2.8h2.8v2.4h-2.8v2.8h-2.4v-2.8h-2.8v-2.4h2.8z"/>
<path d="M700.66 428.92h2.4v2.8h2.8v2.4h-2.8v2.8h-2.4v-2.8h-2.8v-2.4h2.8z"/>
<path d="M662.1 421.16h2.4v2.8h2.8v2.4h-2.8v2.8h-2.4v-2.8h-2.8v-2.4h2.8z"/>
<path d="M674.95 421.16h2.4v2.8h2.8v2.4h-2.8v2.8h-2.4v-2.8h-2.8v-2.4h2.8z"/>
<path d="M707.09 421.16h2.4v2.8h2.8v2.4h-2.8v2.8h-2.4v-2.8h-2.8v-2.4h2.8z"/>
<path d="M726.37 421.16h2.4v2.8h2.8v2.4h-2.8v2.8h-2.4v-2.8h-2.8v-2.4h2.8z"/>
<path d="M739.22 421.16h2.4v2.8h2.8v2.4h-2.8v2.8h-2.4v-2.8h-2.8v-2.4h2.8z"/>
<path d="M764.93 421.16h2.4v2.8h2.8v2.4h-2.8v2.8h-2.4v-2.8h-2.8v-2.4h2.8z"/>
<path d="M771.36 421.16h2.4v2.8h2.8v2.4h-2.8v2.8h-2.4v-2.8h-2.8v-2.4h2.8z"/>
<path d="M777.78 421.16h2.4v2.8h2.8v2.4h-2.8v2.8h-2.4v-2.8h-2.8v-2.4h2.8z"/>
<path d="M700.66 413.4h2.4v2.8h2.8v2.4h-2.8v2.8h-2.4v-2.8h-2.8v-2.4h2.8z"/>
<path d="M713.51 413.4h2.4v2.8h2.8v2.4h-2.8v2.8h-2.4v-2.8h-2.8v-2.4h2.8z"/>
<path d="M719.94 413.4h2.4v2.8h2.8v2.4h-2.8v2.8h-2.4v-2.8h-2.8v-2.4h2.8z"/>
<path d="M655.67 405.64h2.4v2.8h2.8v2.4h-2.8v2.8h-2.4v-2.8h-2.8v-2.4h2.8z"/>
<path d="M707.09 405.64h2.4v2.8h2.8v2.4h-2.8v2.8h-2.4v-2.8h-2.8v-2.4h2.8z"/>
<path d="M739.22 405.64h2.4v2.8h2.8v2.4h-2.8v2.8h-2.4v-2.8h-2.8v-2.4h2.8z"/>
<path d="M777.78 405.64h2.4v2.8h2.8v2.4h-2.8v2.8h-2.4v-2.8h-2.8v-2.4h2.8z"/>
<path d="M649.24 397.88h2.4v2.8h2.8v2.4h-2.8v2.8h-2.4v-2.8h-2.8v-2.4h2.8z"/>
<path d="M739.22 397.88h2.4v2.8h2.8v2.4h-2.8v2.8h-2.4v-2.8h-2.8v-2.4h2.8z"/>
<path d="M809.92 397.88h2.4v2.8h2.8v2.4h-2.8v2.8h-2.4v-2.8h-2.8v-2.4h2.8z"/>
<path d="M719.94 390.12h2.4v2.8h2.8v2.4h-2.8v2.8h-2.4v-2.8h-2.8v-2.4h2.8z"/>
<path d="M784.21 390.12h2.4v2.8h2.8v2.4h-2.8v2.8h-2.4v-2.8h-2.8v-2.4h2.8z"/>
<path d="M758.5 382.36h2.4v2.8h2.8v2.4h-2.8v2.8h-2.4v-2.8h-2.8v-2.4h2.8z"/>
<path d="M764.93 382.36h2.4v2.8h2.8v2.4h-2.8v2.8h-2.4v-2.8h-2.8v-2.4h2.8z"/>
<path d="M668.52 374.6h2.4v2.8h2.8v2.4h-2.8v2.8h-2.4v-2.8h-2.8v-2.4h2.8z"/>
<path d="M694.23 374.6h2.4v2.8h2.8v2.4h-2.8v2.8h-2.4v-2.8h-2.8v-2.4h2.8z"/>
<path d="M713.51 374.6h2.4v2.8h2.8v2.4h-2.8v2.8h-2.4v-2.8h-2.8v-2.4h2.8z"/>
<path d="M739.22 374.6h2.4v2.8h2.8v2.4h-2.8v2.8h-2.4v-2.8h-2.8v-2.4h2.8z"/>
<path d="M752.07 374.6h2.4v2.8h2.8v2.4h-2.8v2.8h-2.4v-2.8h-2.8v-2.4h2.8z"/>
<path d="M758.5 374.6h2.4v2.8h2.8v2.4h-2.8v2.8h-2.4v-2.8h-2.8v-2.4h2.8z"/>
<path d="M713.51 366.84h2.4v2.8h2.8v2.4h-2.8v2.8h-2.4v-2.8h-2.8v-2.4h2.8z"/>
<path d="M777.78 366.84h2.4v2.8h2.8v2.4h-2.8v2.8h-2.4v-2.8h-2.8v-2.4h2.8z"/>
<path d="M617.11 359.08h2.4v2.8h2.8v2.4h-2.8v2.8h-2.4v-2.8h-2.8v-2.4h2.8z"/>
<path d="M803.49 359.08h2.4v2.8h2.8v2.4h-2.8v2.8h-2.4v-2.8h-2.8v-2.4h2.8z"/>
<path d="M668.52 351.32h2.4v2.8h2.8v2.4h-2.8v2.8h-2.4v-2.8h-2.8v-2.4h2.8z"/>
<path d="M674.95 351.32h2.4v2.8h2.8v2.4h-2.8v2.8h-2.4v-2.8h-2.8v-2.4h2.8z"/>
<path d="M681.38 351.32h2.4v2.8h2.8v2.4h-2.8v2.8h-2.4v-2.8h-2.8v-2.4h2.8z"/>
<path d="M745.65 351.32h2.4v2.8h2.8v2.4h-2.8v2.8h-2.4v-2.8h-2.8v-2.4h2.8z"/>
<path d="M764.93 351.32h2.4v2.8h2.8v2.4h-2.8v2.8h-2.4v-2.8h-2.8v-2.4h2.8z"/>
<path d="M771.36 351.32h2.4v2.8h2.8v2.4h-2.8v2.8h-2.4v-2.8h-2.8v-2.4h2.8z"/>
<path d="M687.8 343.56h2.4v2.8h2.8v2.4h-2.8v2.8h-2.4v-2.8h-2.8v-2.4h2.8z"/>
<path d="M745.65 339.68h2.4v2.8h2.8v2.4h-2.8v2.8h-2.4v-2.8h-2.8v-2.4h2.8z"/>
<path d="M726.37 328.04h2.4v2.8h2.8v2.4h-2.8v2.8h-2.4v-2.8h-2.8v-2.4h2.8z"/>
<path d="M739.22 328.04h2.4v2.8h2.8v2.4h-2.8v2.8h-2.4v-2.8h-2.8v-2.4h2.8z"/>
<path d="M867.76 328.04h2.4v2.8h2.8v2.4h-2.8v2.8h-2.4v-2.8h-2.8v-2.4h2.8z"/>
<path d="M642.82 320.28h2.4v2.8h2.8v2.4h-2.8v2.8h-2.4v-2.8h-2.8v-2.4h2.8z"/>
<path d="M777.78 320.28h2.4v2.8h2.8v2.4h-2.8v2.8h-2.4v-2.8h-2.8v-2.4h2.8z"/>
<path d="M790.64 320.28h2.4v2.8h2.8v2.4h-2.8v2.8h-2.4v-2.8h-2.8v-2.4h2.8z"/>
<path d="M809.92 320.28h2.4v2.8h2.8v2.4h-2.8v2.8h-2.4v-2.8h-2.8v-2.4h2.8z"/>
<path d="M764.93 312.52h2.4v2.8h2.8v2.4h-2.8v2.8h-2.4v-2.8h-2.8v-2.4h2.8z"/>
<path d="M803.49 304.76h2.4v2.8h2.8v2.4h-2.8v2.8h-2.4v-2.8h-2.8v-2.4h2.8z"/>
<path d="M752.07 297h2.4v2.8h2.8v2.4h-2.8v2.8h-2.4v-2.8h-2.8v-2.4h2.8z"/>
<path d="M745.65 281.48h2.4v2.8h2.8v2.4h-2.8v2.8h-2.4v-2.8h-2.8v-2.4h2.8z"/>
<path d="M829.2 281.48h2.4v2.8h2.8v2.4h-2.8v2.8h-2.4v-2.8h-2.8v-2.4h2.8z"/>
<path d="M668.52 258.2h2.4v2.8h2.8v2.4h-2.8v2.8h-2.4v-2.8h-2.8v-2.4h2.8z"/>
<path d="M816.35 258.2h2.4v2.8h2.8v2.4h-2.8v2.8h-2.4v-2.8h-2.8v-2.4h2.8z"/>
<path d="M674.95 250.44h2.4v2.8h2.8v2.4h-2.8v2.8h-2.4v-2.8h-2.8v-2.4h2.8z"/>
<path d="M719.94 250.44h2.4v2.8h2.8v2.4h-2.8v2.8h-2.4v-2.8h-2.8v-2.4h2.8z"/>
<path d="M745.65 219.4h2.4v2.8h2.8v2.4h-2.8v2.8h-2.4v-2.8h-2.8v-2.4h2.8z"/>
<path d="M674.95 196.12h2.4v2.8h2.8v2.4h-2.8v2.8h-2.4v-2.8h-2.8v-2.4h2.8z"/>
<path d="M707.09 196.12h2.4v2.8h2.8v2.4h-2.8v2.8h-2.4v-2.8h-2.8v-2.4h2.8z"/>
<path d="M732.79 196.12h2.4v2.8h2.8v2.4h-2.8v2.8h-2.4v-2.8h-2.8v-2.4h2.8z"/>
<path d="M745.65 196.12h2.4v2.8h2.8v2.4h-2.8v2.8h-2.4v-2.8h-2.8v-2.4h2.8z"/>
</g>
<polygon points="593.5,374 640,371 668,369 720,354.4 768.8,332.3 798.6,314.3 817.7,300 840,283.8 869.6,263.4 869.6,351.4 837,360.3 790,370 750,381 709.5,398 685.6,410 661.7,424 640.2,437.4 613.9,458.9 593.5,470.8" fill="#1f9e89" fill-opacity=".15"/>
<line x1="593.5" y1="418.2" x2="1004.8" y2="284.0" stroke="#23798c" stroke-width="2.8" stroke-linecap="butt"/>
<line x1="593.5" y1="429.0" x2="869.9" y2="310.2" stroke="#1f9e89" stroke-width="2.8" stroke-linecap="round"/>
</g>
<g stroke="#000" stroke-width="1" fill="none" shape-rendering="crispEdges">
<line x1="593" y1="71.5" x2="1011" y2="71.5"/>
<line x1="593.5" y1="84" x2="593.5" y2="535"/>
<line x1="593" y1="534.5" x2="1011" y2="534.5"/>
<line x1="1022.5" y1="84" x2="1022.5" y2="535"/>
<line x1="593.5" y1="534.5" x2="593.5" y2="539.5"/>
<line x1="593.5" y1="71.5" x2="593.5" y2="76.5"/>
<line x1="657.5" y1="534.5" x2="657.5" y2="539.5"/>
<line x1="657.5" y1="71.5" x2="657.5" y2="76.5"/>
<line x1="721.5" y1="534.5" x2="721.5" y2="539.5"/>
<line x1="721.5" y1="71.5" x2="721.5" y2="76.5"/>
<line x1="786.5" y1="534.5" x2="786.5" y2="539.5"/>
<line x1="786.5" y1="71.5" x2="786.5" y2="76.5"/>
<line x1="850.5" y1="534.5" x2="850.5" y2="539.5"/>
<line x1="850.5" y1="71.5" x2="850.5" y2="76.5"/>
<line x1="914.5" y1="534.5" x2="914.5" y2="539.5"/>
<line x1="914.5" y1="71.5" x2="914.5" y2="76.5"/>
<line x1="978.5" y1="534.5" x2="978.5" y2="539.5"/>
<line x1="978.5" y1="71.5" x2="978.5" y2="76.5"/>
<line x1="588.5" y1="534.5" x2="593.5" y2="534.5"/>
<line x1="1017.5" y1="534.5" x2="1022.5" y2="534.5"/>
<line x1="588.5" y1="456.5" x2="593.5" y2="456.5"/>
<line x1="1017.5" y1="456.5" x2="1022.5" y2="456.5"/>
<line x1="588.5" y1="379.5" x2="593.5" y2="379.5"/>
<line x1="1017.5" y1="379.5" x2="1022.5" y2="379.5"/>
<line x1="588.5" y1="301.5" x2="593.5" y2="301.5"/>
<line x1="1017.5" y1="301.5" x2="1022.5" y2="301.5"/>
<line x1="588.5" y1="224.5" x2="593.5" y2="224.5"/>
<line x1="1017.5" y1="224.5" x2="1022.5" y2="224.5"/>
<line x1="588.5" y1="146.5" x2="593.5" y2="146.5"/>
<line x1="1017.5" y1="146.5" x2="1022.5" y2="146.5"/>
</g>
<g font-size="13.89" fill="#000">
<text x="593" y="554" text-anchor="middle">20</text>
<text x="657.2" y="554" text-anchor="middle">30</text>
<text x="721.4" y="554" text-anchor="middle">40</text>
<text x="785.6" y="554" text-anchor="middle">50</text>
<text x="849.8" y="554" text-anchor="middle">60</text>
<text x="914" y="554" text-anchor="middle">70</text>
<text x="978.2" y="554" text-anchor="middle">80</text>
<text x="583.5" y="539.7" text-anchor="end">0</text>
<text x="583.5" y="462.1" text-anchor="end">1</text>
<text x="583.5" y="384.5" text-anchor="end">2</text>
<text x="583.5" y="306.9" text-anchor="end">3</text>
<text x="583.5" y="229.3" text-anchor="end">4</text>
<text x="583.5" y="151.7" text-anchor="end">5</text>
<text x="801.35" y="574.8" text-anchor="middle" letter-spacing=".25">DBH (cm)</text>
<text transform="translate(565 309.5) rotate(-90)" text-anchor="middle" letter-spacing=".16">rootplate diameter (m)</text>
</g>
<rect x="881.6" y="91.5" width="122" height="67" rx="2.8" fill="#fff" fill-opacity=".8" stroke="#ccc" stroke-opacity=".8" stroke-width="1"/>
<g font-size="13.89" fill="#000">
<text x="942.6" y="107.9" text-anchor="middle">Species</text>
<text x="926.3" y="128.6">coniferous</text>
<text x="926.3" y="148.9">deciduous</text>
</g>
<circle cx="901.1" cy="125.4" r="4.75" fill="#31688e"/>
<circle cx="901.1" cy="146.4" r="4.75" fill="#35b779"/>
<g font-size="12.5" fill="#000">
<text x="613.8" y="93.2">D con =</text><text x="676.3" y="93.2">0.937 + 0.027x</text>
<text x="613.8" y="111"><tspan font-style="oblique">R</tspan><tspan dy="-4.8" font-size="8.75">2</tspan><tspan dy="4.8" dx=".8">: 0.148</tspan></text>
<text x="613.8" y="135.2">D dec =</text><text x="676.3" y="135.2">0.606 + 0.036x</text>
<text x="613.8" y="152.8"><tspan font-style="oblique">R</tspan><tspan dy="-4.8" font-size="8.75">2</tspan><tspan dy="4.8" dx=".8">: 0.114</tspan></text>
</g>
<text x="553.5" y="111" font-size="18.6" font-weight="bold">W2</text>
<text transform="translate(552.5 25.9) scale(.955 1)" font-size="19.6" font-weight="bold" class="lib" stroke="#fff" stroke-width=".1">(b)</text>
</svg></body></html>
